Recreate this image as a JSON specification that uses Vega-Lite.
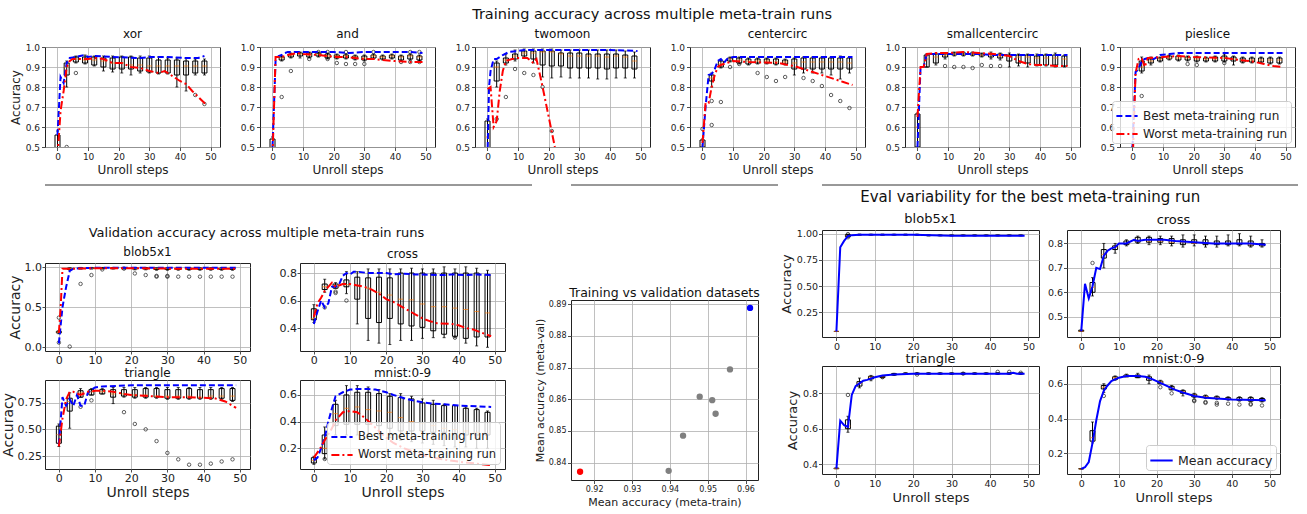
{
"$schema":"https://vega.github.io/schema/vega-lite/v6.json",
"padding":{"left":0,"top":7,"right":5,"bottom":3},
"background":"white",
"config":{
 "font":"DejaVu Sans",
 "view":{"stroke":"#222","strokeWidth":1},
 "axis":{"grid":true,"gridColor":"#b0b0b0","gridWidth":0.8,"domain":false,"tickColor":"#222","tickSize":3.5,"tickWidth":0.8,"labelColor":"#222","titleColor":"#222","titleFontWeight":"normal","labelFont":"DejaVu Sans","titleFont":"DejaVu Sans","labelPadding":2,"titlePadding":3,"labelFlush":false,"labelOverlap":false,"labelFontSize":9,"titleFontSize":12,"tickCount":50},
 "style":{"tr":{"labelFontSize":9,"titleFontSize":12},"va":{"labelFontSize":11,"titleFontSize":14,"labelPadding":0.5,"tickSize":3,"titlePadding":2},"ev":{"labelFontSize":9.5,"titleFontSize":13,"labelPadding":1},"sc":{"labelFontSize":8,"titleFontSize":11,"labelPadding":1.5}},
 "title":{"font":"DejaVu Sans","fontWeight":"normal","color":"#111","fontSize":12,"offset":2},
 "legend":{"labelFont":"DejaVu Sans","labelColor":"#222"}
},
"datasets":{
"sep":[{}],
"scatter":[{"kind":"worst","train_acc":0.9163,"val_acc":0.8371},{"kind":"other","train_acc":0.9397,"val_acc":0.8374},{"kind":"other","train_acc":0.9435,"val_acc":0.8485},{"kind":"other","train_acc":0.9479,"val_acc":0.8608},{"kind":"other","train_acc":0.9512,"val_acc":0.8597},{"kind":"other","train_acc":0.9521,"val_acc":0.8554},{"kind":"other","train_acc":0.9559,"val_acc":0.8694},{"kind":"best","train_acc":0.9612,"val_acc":0.8888}],
"box":[
{"panel":"t_xor","step":0,"lo":0.3,"q1":0.4,"med":0.48,"q3":0.56,"hi":0.58},
{"panel":"t_xor","step":3,"lo":0.8,"q1":0.86,"med":0.9,"q3":0.92,"hi":0.93},
{"panel":"t_xor","step":6,"lo":0.92,"q1":0.925,"med":0.94,"q3":0.95,"hi":0.955},
{"panel":"t_xor","step":9,"lo":0.915,"q1":0.92,"med":0.935,"q3":0.95,"hi":0.96},
{"panel":"t_xor","step":12,"lo":0.905,"q1":0.91,"med":0.935,"q3":0.95,"hi":0.955},
{"panel":"t_xor","step":15,"lo":0.88,"q1":0.9,"med":0.93,"q3":0.945,"hi":0.955},
{"panel":"t_xor","step":18,"lo":0.875,"q1":0.89,"med":0.92,"q3":0.945,"hi":0.955},
{"panel":"t_xor","step":21,"lo":0.87,"q1":0.89,"med":0.92,"q3":0.95,"hi":0.955},
{"panel":"t_xor","step":24,"lo":0.86,"q1":0.89,"med":0.91,"q3":0.95,"hi":0.955},
{"panel":"t_xor","step":27,"lo":0.87,"q1":0.88,"med":0.91,"q3":0.945,"hi":0.955},
{"panel":"t_xor","step":30,"lo":0.87,"q1":0.875,"med":0.905,"q3":0.945,"hi":0.955},
{"panel":"t_xor","step":33,"lo":0.865,"q1":0.87,"med":0.905,"q3":0.935,"hi":0.95},
{"panel":"t_xor","step":36,"lo":0.865,"q1":0.87,"med":0.905,"q3":0.935,"hi":0.945},
{"panel":"t_xor","step":39,"lo":0.8,"q1":0.86,"med":0.905,"q3":0.935,"hi":0.945},
{"panel":"t_xor","step":42,"lo":0.78,"q1":0.86,"med":0.905,"q3":0.93,"hi":0.945},
{"panel":"t_xor","step":45,"lo":0.86,"q1":0.87,"med":0.905,"q3":0.93,"hi":0.94},
{"panel":"t_xor","step":48,"lo":0.86,"q1":0.87,"med":0.905,"q3":0.93,"hi":0.94},
{"panel":"t_and","step":0,"lo":0.4,"q1":0.45,"med":0.5,"q3":0.54,"hi":0.55},
{"panel":"t_and","step":3,"lo":0.93,"q1":0.935,"med":0.945,"q3":0.95,"hi":0.955},
{"panel":"t_and","step":6,"lo":0.945,"q1":0.95,"med":0.96,"q3":0.965,"hi":0.97},
{"panel":"t_and","step":9,"lo":0.945,"q1":0.955,"med":0.965,"q3":0.97,"hi":0.975},
{"panel":"t_and","step":12,"lo":0.945,"q1":0.95,"med":0.96,"q3":0.97,"hi":0.975},
{"panel":"t_and","step":15,"lo":0.95,"q1":0.955,"med":0.965,"q3":0.97,"hi":0.975},
{"panel":"t_and","step":18,"lo":0.94,"q1":0.945,"med":0.955,"q3":0.965,"hi":0.97},
{"panel":"t_and","step":21,"lo":0.94,"q1":0.945,"med":0.955,"q3":0.96,"hi":0.965},
{"panel":"t_and","step":24,"lo":0.94,"q1":0.945,"med":0.955,"q3":0.96,"hi":0.965},
{"panel":"t_and","step":27,"lo":0.935,"q1":0.94,"med":0.95,"q3":0.955,"hi":0.96},
{"panel":"t_and","step":30,"lo":0.93,"q1":0.935,"med":0.945,"q3":0.955,"hi":0.96},
{"panel":"t_and","step":33,"lo":0.94,"q1":0.945,"med":0.955,"q3":0.96,"hi":0.965},
{"panel":"t_and","step":36,"lo":0.935,"q1":0.94,"med":0.95,"q3":0.955,"hi":0.96},
{"panel":"t_and","step":39,"lo":0.94,"q1":0.945,"med":0.955,"q3":0.96,"hi":0.965},
{"panel":"t_and","step":42,"lo":0.93,"q1":0.935,"med":0.95,"q3":0.955,"hi":0.96},
{"panel":"t_and","step":45,"lo":0.935,"q1":0.94,"med":0.955,"q3":0.96,"hi":0.965},
{"panel":"t_and","step":48,"lo":0.93,"q1":0.935,"med":0.95,"q3":0.955,"hi":0.96},
{"panel":"t_twomoon","step":0,"lo":0.4,"q1":0.45,"med":0.55,"q3":0.63,"hi":0.64},
{"panel":"t_twomoon","step":3,"lo":0.8,"q1":0.83,"med":0.9,"q3":0.92,"hi":0.93},
{"panel":"t_twomoon","step":6,"lo":0.91,"q1":0.92,"med":0.935,"q3":0.945,"hi":0.965},
{"panel":"t_twomoon","step":9,"lo":0.93,"q1":0.94,"med":0.955,"q3":0.965,"hi":0.985},
{"panel":"t_twomoon","step":12,"lo":0.945,"q1":0.955,"med":0.97,"q3":0.98,"hi":0.99},
{"panel":"t_twomoon","step":15,"lo":0.92,"q1":0.94,"med":0.97,"q3":0.98,"hi":0.99},
{"panel":"t_twomoon","step":18,"lo":0.85,"q1":0.91,"med":0.975,"q3":0.98,"hi":0.99},
{"panel":"t_twomoon","step":21,"lo":0.845,"q1":0.905,"med":0.975,"q3":0.98,"hi":0.99},
{"panel":"t_twomoon","step":24,"lo":0.85,"q1":0.905,"med":0.965,"q3":0.97,"hi":0.985},
{"panel":"t_twomoon","step":27,"lo":0.845,"q1":0.895,"med":0.955,"q3":0.97,"hi":0.985},
{"panel":"t_twomoon","step":30,"lo":0.845,"q1":0.895,"med":0.955,"q3":0.97,"hi":0.985},
{"panel":"t_twomoon","step":33,"lo":0.845,"q1":0.895,"med":0.955,"q3":0.965,"hi":0.985},
{"panel":"t_twomoon","step":36,"lo":0.84,"q1":0.895,"med":0.955,"q3":0.965,"hi":0.985},
{"panel":"t_twomoon","step":39,"lo":0.84,"q1":0.89,"med":0.95,"q3":0.965,"hi":0.985},
{"panel":"t_twomoon","step":42,"lo":0.845,"q1":0.895,"med":0.955,"q3":0.965,"hi":0.985},
{"panel":"t_twomoon","step":45,"lo":0.845,"q1":0.895,"med":0.95,"q3":0.96,"hi":0.98},
{"panel":"t_twomoon","step":48,"lo":0.845,"q1":0.89,"med":0.93,"q3":0.955,"hi":0.975},
{"panel":"t_centercirc","step":0,"lo":0.49,"q1":0.5,"med":0.51,"q3":0.535,"hi":0.54},
{"panel":"t_centercirc","step":3,"lo":0.8,"q1":0.83,"med":0.845,"q3":0.86,"hi":0.87},
{"panel":"t_centercirc","step":6,"lo":0.895,"q1":0.9,"med":0.915,"q3":0.93,"hi":0.935},
{"panel":"t_centercirc","step":9,"lo":0.925,"q1":0.93,"med":0.94,"q3":0.945,"hi":0.95},
{"panel":"t_centercirc","step":12,"lo":0.915,"q1":0.92,"med":0.935,"q3":0.945,"hi":0.95},
{"panel":"t_centercirc","step":15,"lo":0.91,"q1":0.915,"med":0.93,"q3":0.94,"hi":0.945},
{"panel":"t_centercirc","step":18,"lo":0.915,"q1":0.92,"med":0.93,"q3":0.94,"hi":0.945},
{"panel":"t_centercirc","step":21,"lo":0.915,"q1":0.92,"med":0.93,"q3":0.94,"hi":0.945},
{"panel":"t_centercirc","step":24,"lo":0.91,"q1":0.915,"med":0.925,"q3":0.94,"hi":0.945},
{"panel":"t_centercirc","step":27,"lo":0.91,"q1":0.915,"med":0.925,"q3":0.935,"hi":0.94},
{"panel":"t_centercirc","step":30,"lo":0.86,"q1":0.89,"med":0.92,"q3":0.94,"hi":0.945},
{"panel":"t_centercirc","step":33,"lo":0.87,"q1":0.89,"med":0.925,"q3":0.945,"hi":0.95},
{"panel":"t_centercirc","step":36,"lo":0.87,"q1":0.89,"med":0.925,"q3":0.945,"hi":0.95},
{"panel":"t_centercirc","step":39,"lo":0.87,"q1":0.89,"med":0.925,"q3":0.945,"hi":0.95},
{"panel":"t_centercirc","step":42,"lo":0.86,"q1":0.89,"med":0.925,"q3":0.945,"hi":0.95},
{"panel":"t_centercirc","step":45,"lo":0.84,"q1":0.89,"med":0.925,"q3":0.945,"hi":0.955},
{"panel":"t_centercirc","step":48,"lo":0.87,"q1":0.89,"med":0.92,"q3":0.945,"hi":0.95},
{"panel":"t_small","step":0,"lo":0.45,"q1":0.5,"med":0.6,"q3":0.665,"hi":0.67},
{"panel":"t_small","step":3,"lo":0.9,"q1":0.9,"med":0.94,"q3":0.96,"hi":0.965},
{"panel":"t_small","step":6,"lo":0.91,"q1":0.92,"med":0.95,"q3":0.965,"hi":0.97},
{"panel":"t_small","step":9,"lo":0.94,"q1":0.95,"med":0.96,"q3":0.965,"hi":0.97},
{"panel":"t_small","step":12,"lo":0.955,"q1":0.96,"med":0.965,"q3":0.97,"hi":0.975},
{"panel":"t_small","step":15,"lo":0.955,"q1":0.96,"med":0.965,"q3":0.97,"hi":0.975},
{"panel":"t_small","step":18,"lo":0.955,"q1":0.96,"med":0.965,"q3":0.97,"hi":0.975},
{"panel":"t_small","step":21,"lo":0.95,"q1":0.955,"med":0.96,"q3":0.965,"hi":0.97},
{"panel":"t_small","step":24,"lo":0.94,"q1":0.95,"med":0.96,"q3":0.965,"hi":0.975},
{"panel":"t_small","step":27,"lo":0.935,"q1":0.945,"med":0.955,"q3":0.965,"hi":0.97},
{"panel":"t_small","step":30,"lo":0.9,"q1":0.93,"med":0.955,"q3":0.96,"hi":0.97},
{"panel":"t_small","step":33,"lo":0.905,"q1":0.92,"med":0.95,"q3":0.96,"hi":0.965},
{"panel":"t_small","step":36,"lo":0.9,"q1":0.92,"med":0.95,"q3":0.96,"hi":0.965},
{"panel":"t_small","step":39,"lo":0.905,"q1":0.91,"med":0.945,"q3":0.955,"hi":0.965},
{"panel":"t_small","step":42,"lo":0.905,"q1":0.91,"med":0.945,"q3":0.96,"hi":0.965},
{"panel":"t_small","step":45,"lo":0.9,"q1":0.91,"med":0.945,"q3":0.96,"hi":0.97},
{"panel":"t_small","step":48,"lo":0.9,"q1":0.905,"med":0.94,"q3":0.955,"hi":0.96},
{"panel":"t_pie","step":0,"lo":0.3,"q1":0.35,"med":0.4,"q3":0.45,"hi":0.5},
{"panel":"t_pie","step":3,"lo":0.87,"q1":0.88,"med":0.9,"q3":0.93,"hi":0.95},
{"panel":"t_pie","step":6,"lo":0.91,"q1":0.92,"med":0.93,"q3":0.94,"hi":0.95},
{"panel":"t_pie","step":9,"lo":0.925,"q1":0.93,"med":0.94,"q3":0.945,"hi":0.95},
{"panel":"t_pie","step":12,"lo":0.935,"q1":0.94,"med":0.945,"q3":0.955,"hi":0.96},
{"panel":"t_pie","step":15,"lo":0.93,"q1":0.935,"med":0.945,"q3":0.955,"hi":0.96},
{"panel":"t_pie","step":18,"lo":0.93,"q1":0.935,"med":0.945,"q3":0.95,"hi":0.955},
{"panel":"t_pie","step":21,"lo":0.925,"q1":0.93,"med":0.94,"q3":0.95,"hi":0.955},
{"panel":"t_pie","step":24,"lo":0.925,"q1":0.93,"med":0.94,"q3":0.945,"hi":0.95},
{"panel":"t_pie","step":27,"lo":0.925,"q1":0.93,"med":0.94,"q3":0.95,"hi":0.955},
{"panel":"t_pie","step":30,"lo":0.925,"q1":0.93,"med":0.945,"q3":0.955,"hi":0.965},
{"panel":"t_pie","step":33,"lo":0.91,"q1":0.93,"med":0.94,"q3":0.95,"hi":0.955},
{"panel":"t_pie","step":36,"lo":0.92,"q1":0.925,"med":0.935,"q3":0.945,"hi":0.95},
{"panel":"t_pie","step":39,"lo":0.92,"q1":0.925,"med":0.935,"q3":0.945,"hi":0.95},
{"panel":"t_pie","step":42,"lo":0.92,"q1":0.925,"med":0.935,"q3":0.945,"hi":0.95},
{"panel":"t_pie","step":45,"lo":0.915,"q1":0.92,"med":0.935,"q3":0.945,"hi":0.95},
{"panel":"t_pie","step":48,"lo":0.915,"q1":0.92,"med":0.935,"q3":0.945,"hi":0.95},
{"panel":"v_blob","step":0,"lo":0.17,"q1":0.18,"med":0.19,"q3":0.2,"hi":0.21},
{"panel":"v_blob","step":3,"lo":0.96,"q1":0.97,"med":0.98,"q3":0.985,"hi":0.99},
{"panel":"v_blob","step":6,"lo":0.975,"q1":0.98,"med":0.985,"q3":0.99,"hi":0.995},
{"panel":"v_blob","step":9,"lo":0.975,"q1":0.98,"med":0.985,"q3":0.99,"hi":0.995},
{"panel":"v_blob","step":12,"lo":0.975,"q1":0.98,"med":0.985,"q3":0.99,"hi":0.995},
{"panel":"v_blob","step":15,"lo":0.975,"q1":0.98,"med":0.985,"q3":0.99,"hi":0.995},
{"panel":"v_blob","step":18,"lo":0.975,"q1":0.98,"med":0.985,"q3":0.99,"hi":0.995},
{"panel":"v_blob","step":21,"lo":0.965,"q1":0.975,"med":0.98,"q3":0.99,"hi":0.995},
{"panel":"v_blob","step":24,"lo":0.965,"q1":0.975,"med":0.98,"q3":0.99,"hi":0.995},
{"panel":"v_blob","step":27,"lo":0.96,"q1":0.97,"med":0.98,"q3":0.985,"hi":0.99},
{"panel":"v_blob","step":30,"lo":0.96,"q1":0.97,"med":0.98,"q3":0.985,"hi":0.99},
{"panel":"v_blob","step":33,"lo":0.96,"q1":0.97,"med":0.98,"q3":0.985,"hi":0.99},
{"panel":"v_blob","step":36,"lo":0.96,"q1":0.97,"med":0.98,"q3":0.985,"hi":0.99},
{"panel":"v_blob","step":39,"lo":0.96,"q1":0.97,"med":0.98,"q3":0.985,"hi":0.99},
{"panel":"v_blob","step":42,"lo":0.96,"q1":0.97,"med":0.98,"q3":0.985,"hi":0.99},
{"panel":"v_blob","step":45,"lo":0.96,"q1":0.97,"med":0.98,"q3":0.985,"hi":0.99},
{"panel":"v_blob","step":48,"lo":0.96,"q1":0.97,"med":0.98,"q3":0.985,"hi":0.99},
{"panel":"v_cross","step":0,"lo":0.44,"q1":0.46,"med":0.47,"q3":0.54,"hi":0.57},
{"panel":"v_cross","step":3,"lo":0.66,"q1":0.68,"med":0.7,"q3":0.72,"hi":0.755},
{"panel":"v_cross","step":6,"lo":0.69,"q1":0.69,"med":0.71,"q3":0.72,"hi":0.73},
{"panel":"v_cross","step":9,"lo":0.65,"q1":0.7,"med":0.715,"q3":0.75,"hi":0.81},
{"panel":"v_cross","step":12,"lo":0.43,"q1":0.61,"med":0.71,"q3":0.77,"hi":0.81},
{"panel":"v_cross","step":15,"lo":0.31,"q1":0.47,"med":0.69,"q3":0.765,"hi":0.83},
{"panel":"v_cross","step":18,"lo":0.29,"q1":0.44,"med":0.66,"q3":0.77,"hi":0.83},
{"panel":"v_cross","step":21,"lo":0.28,"q1":0.47,"med":0.64,"q3":0.765,"hi":0.83},
{"panel":"v_cross","step":24,"lo":0.31,"q1":0.43,"med":0.61,"q3":0.8,"hi":0.83},
{"panel":"v_cross","step":27,"lo":0.31,"q1":0.415,"med":0.605,"q3":0.8,"hi":0.835},
{"panel":"v_cross","step":30,"lo":0.325,"q1":0.405,"med":0.575,"q3":0.8,"hi":0.83},
{"panel":"v_cross","step":33,"lo":0.33,"q1":0.38,"med":0.555,"q3":0.8,"hi":0.83},
{"panel":"v_cross","step":36,"lo":0.33,"q1":0.355,"med":0.555,"q3":0.8,"hi":0.845},
{"panel":"v_cross","step":39,"lo":0.33,"q1":0.34,"med":0.545,"q3":0.8,"hi":0.83},
{"panel":"v_cross","step":42,"lo":0.29,"q1":0.325,"med":0.535,"q3":0.8,"hi":0.845},
{"panel":"v_cross","step":45,"lo":0.27,"q1":0.335,"med":0.52,"q3":0.8,"hi":0.835},
{"panel":"v_cross","step":48,"lo":0.26,"q1":0.335,"med":0.51,"q3":0.79,"hi":0.82},
{"panel":"v_tri","step":0,"lo":0.34,"q1":0.37,"med":0.45,"q3":0.53,"hi":0.55},
{"panel":"v_tri","step":3,"lo":0.51,"q1":0.67,"med":0.76,"q3":0.79,"hi":0.84},
{"panel":"v_tri","step":6,"lo":0.8,"q1":0.8,"med":0.84,"q3":0.86,"hi":0.88},
{"panel":"v_tri","step":9,"lo":0.82,"q1":0.82,"med":0.85,"q3":0.87,"hi":0.88},
{"panel":"v_tri","step":12,"lo":0.83,"q1":0.83,"med":0.85,"q3":0.87,"hi":0.88},
{"panel":"v_tri","step":15,"lo":0.74,"q1":0.8,"med":0.83,"q3":0.87,"hi":0.89},
{"panel":"v_tri","step":18,"lo":0.8,"q1":0.81,"med":0.83,"q3":0.87,"hi":0.89},
{"panel":"v_tri","step":21,"lo":0.79,"q1":0.8,"med":0.82,"q3":0.87,"hi":0.89},
{"panel":"v_tri","step":24,"lo":0.79,"q1":0.8,"med":0.82,"q3":0.88,"hi":0.89},
{"panel":"v_tri","step":27,"lo":0.79,"q1":0.8,"med":0.81,"q3":0.88,"hi":0.89},
{"panel":"v_tri","step":30,"lo":0.78,"q1":0.79,"med":0.81,"q3":0.87,"hi":0.89},
{"panel":"v_tri","step":33,"lo":0.78,"q1":0.79,"med":0.81,"q3":0.87,"hi":0.89},
{"panel":"v_tri","step":36,"lo":0.78,"q1":0.79,"med":0.81,"q3":0.88,"hi":0.89},
{"panel":"v_tri","step":39,"lo":0.78,"q1":0.79,"med":0.8,"q3":0.87,"hi":0.89},
{"panel":"v_tri","step":42,"lo":0.78,"q1":0.79,"med":0.81,"q3":0.87,"hi":0.89},
{"panel":"v_tri","step":45,"lo":0.78,"q1":0.79,"med":0.81,"q3":0.88,"hi":0.89},
{"panel":"v_tri","step":48,"lo":0.76,"q1":0.77,"med":0.81,"q3":0.88,"hi":0.89},
{"panel":"v_mnist","step":0,"lo":0.08,"q1":0.09,"med":0.11,"q3":0.13,"hi":0.14},
{"panel":"v_mnist","step":3,"lo":0.12,"q1":0.16,"med":0.2,"q3":0.3,"hi":0.36},
{"panel":"v_mnist","step":6,"lo":0.3,"q1":0.37,"med":0.46,"q3":0.53,"hi":0.56},
{"panel":"v_mnist","step":9,"lo":0.3,"q1":0.38,"med":0.5,"q3":0.6,"hi":0.67},
{"panel":"v_mnist","step":12,"lo":0.3,"q1":0.38,"med":0.51,"q3":0.62,"hi":0.67},
{"panel":"v_mnist","step":15,"lo":0.3,"q1":0.38,"med":0.49,"q3":0.62,"hi":0.66},
{"panel":"v_mnist","step":18,"lo":0.3,"q1":0.37,"med":0.48,"q3":0.61,"hi":0.64},
{"panel":"v_mnist","step":21,"lo":0.28,"q1":0.35,"med":0.47,"q3":0.59,"hi":0.61},
{"panel":"v_mnist","step":24,"lo":0.26,"q1":0.33,"med":0.43,"q3":0.58,"hi":0.61},
{"panel":"v_mnist","step":27,"lo":0.25,"q1":0.33,"med":0.4,"q3":0.57,"hi":0.59},
{"panel":"v_mnist","step":30,"lo":0.24,"q1":0.33,"med":0.39,"q3":0.54,"hi":0.57},
{"panel":"v_mnist","step":33,"lo":0.23,"q1":0.32,"med":0.37,"q3":0.53,"hi":0.56},
{"panel":"v_mnist","step":36,"lo":0.22,"q1":0.32,"med":0.35,"q3":0.52,"hi":0.53},
{"panel":"v_mnist","step":39,"lo":0.21,"q1":0.31,"med":0.34,"q3":0.52,"hi":0.52},
{"panel":"v_mnist","step":42,"lo":0.21,"q1":0.3,"med":0.33,"q3":0.5,"hi":0.51},
{"panel":"v_mnist","step":45,"lo":0.2,"q1":0.3,"med":0.32,"q3":0.49,"hi":0.5},
{"panel":"v_mnist","step":48,"lo":0.2,"q1":0.3,"med":0.31,"q3":0.47,"hi":0.48},
{"panel":"e_blob","step":0,"lo":0.07,"q1":0.07,"med":0.07,"q3":0.07,"hi":0.07},
{"panel":"e_blob","step":3,"lo":0.965,"q1":0.97,"med":0.98,"q3":0.99,"hi":0.995},
{"panel":"e_blob","step":6,"lo":0.985,"q1":0.987,"med":0.99,"q3":0.992,"hi":0.995},
{"panel":"e_blob","step":9,"lo":0.985,"q1":0.987,"med":0.99,"q3":0.992,"hi":0.995},
{"panel":"e_blob","step":12,"lo":0.985,"q1":0.987,"med":0.99,"q3":0.992,"hi":0.995},
{"panel":"e_blob","step":15,"lo":0.985,"q1":0.987,"med":0.99,"q3":0.992,"hi":0.995},
{"panel":"e_blob","step":18,"lo":0.985,"q1":0.987,"med":0.99,"q3":0.992,"hi":0.995},
{"panel":"e_blob","step":21,"lo":0.985,"q1":0.987,"med":0.99,"q3":0.992,"hi":0.995},
{"panel":"e_blob","step":24,"lo":0.978,"q1":0.98,"med":0.982,"q3":0.985,"hi":0.987},
{"panel":"e_blob","step":27,"lo":0.978,"q1":0.98,"med":0.982,"q3":0.985,"hi":0.987},
{"panel":"e_blob","step":30,"lo":0.978,"q1":0.98,"med":0.982,"q3":0.985,"hi":0.987},
{"panel":"e_blob","step":33,"lo":0.978,"q1":0.98,"med":0.982,"q3":0.985,"hi":0.987},
{"panel":"e_blob","step":36,"lo":0.978,"q1":0.98,"med":0.982,"q3":0.985,"hi":0.987},
{"panel":"e_blob","step":39,"lo":0.978,"q1":0.98,"med":0.982,"q3":0.985,"hi":0.987},
{"panel":"e_blob","step":42,"lo":0.978,"q1":0.98,"med":0.982,"q3":0.985,"hi":0.987},
{"panel":"e_blob","step":45,"lo":0.978,"q1":0.98,"med":0.982,"q3":0.985,"hi":0.987},
{"panel":"e_blob","step":48,"lo":0.978,"q1":0.98,"med":0.982,"q3":0.985,"hi":0.987},
{"panel":"e_cross","step":0,"lo":0.44,"q1":0.44,"med":0.44,"q3":0.445,"hi":0.445},
{"panel":"e_cross","step":3,"lo":0.585,"q1":0.6,"med":0.62,"q3":0.64,"hi":0.66},
{"panel":"e_cross","step":6,"lo":0.7,"q1":0.74,"med":0.755,"q3":0.775,"hi":0.8},
{"panel":"e_cross","step":9,"lo":0.76,"q1":0.775,"med":0.785,"q3":0.79,"hi":0.8},
{"panel":"e_cross","step":12,"lo":0.79,"q1":0.795,"med":0.8,"q3":0.81,"hi":0.815},
{"panel":"e_cross","step":15,"lo":0.8,"q1":0.805,"med":0.81,"q3":0.825,"hi":0.83},
{"panel":"e_cross","step":18,"lo":0.795,"q1":0.805,"med":0.81,"q3":0.825,"hi":0.83},
{"panel":"e_cross","step":21,"lo":0.795,"q1":0.805,"med":0.81,"q3":0.82,"hi":0.83},
{"panel":"e_cross","step":24,"lo":0.79,"q1":0.8,"med":0.805,"q3":0.82,"hi":0.83},
{"panel":"e_cross","step":27,"lo":0.785,"q1":0.795,"med":0.805,"q3":0.815,"hi":0.835},
{"panel":"e_cross","step":30,"lo":0.79,"q1":0.8,"med":0.8,"q3":0.815,"hi":0.835},
{"panel":"e_cross","step":33,"lo":0.785,"q1":0.795,"med":0.8,"q3":0.815,"hi":0.83},
{"panel":"e_cross","step":36,"lo":0.785,"q1":0.795,"med":0.8,"q3":0.81,"hi":0.83},
{"panel":"e_cross","step":39,"lo":0.79,"q1":0.795,"med":0.8,"q3":0.81,"hi":0.835},
{"panel":"e_cross","step":42,"lo":0.79,"q1":0.795,"med":0.8,"q3":0.815,"hi":0.84},
{"panel":"e_cross","step":45,"lo":0.785,"q1":0.79,"med":0.795,"q3":0.81,"hi":0.83},
{"panel":"e_cross","step":48,"lo":0.785,"q1":0.79,"med":0.795,"q3":0.8,"hi":0.815},
{"panel":"e_tri","step":0,"lo":0.375,"q1":0.375,"med":0.375,"q3":0.378,"hi":0.378},
{"panel":"e_tri","step":3,"lo":0.58,"q1":0.6,"med":0.615,"q3":0.65,"hi":0.67},
{"panel":"e_tri","step":6,"lo":0.83,"q1":0.84,"med":0.855,"q3":0.865,"hi":0.885},
{"panel":"e_tri","step":9,"lo":0.87,"q1":0.88,"med":0.89,"q3":0.895,"hi":0.9},
{"panel":"e_tri","step":12,"lo":0.885,"q1":0.888,"med":0.892,"q3":0.895,"hi":0.898},
{"panel":"e_tri","step":15,"lo":0.9,"q1":0.902,"med":0.905,"q3":0.91,"hi":0.912},
{"panel":"e_tri","step":18,"lo":0.905,"q1":0.908,"med":0.91,"q3":0.913,"hi":0.915},
{"panel":"e_tri","step":21,"lo":0.905,"q1":0.908,"med":0.91,"q3":0.913,"hi":0.915},
{"panel":"e_tri","step":24,"lo":0.905,"q1":0.908,"med":0.91,"q3":0.913,"hi":0.915},
{"panel":"e_tri","step":27,"lo":0.905,"q1":0.908,"med":0.91,"q3":0.913,"hi":0.915},
{"panel":"e_tri","step":30,"lo":0.905,"q1":0.908,"med":0.91,"q3":0.913,"hi":0.915},
{"panel":"e_tri","step":33,"lo":0.905,"q1":0.908,"med":0.91,"q3":0.913,"hi":0.915},
{"panel":"e_tri","step":36,"lo":0.905,"q1":0.908,"med":0.91,"q3":0.913,"hi":0.915},
{"panel":"e_tri","step":39,"lo":0.905,"q1":0.908,"med":0.91,"q3":0.913,"hi":0.915},
{"panel":"e_tri","step":42,"lo":0.905,"q1":0.908,"med":0.91,"q3":0.913,"hi":0.915},
{"panel":"e_tri","step":45,"lo":0.905,"q1":0.908,"med":0.91,"q3":0.913,"hi":0.915},
{"panel":"e_tri","step":48,"lo":0.905,"q1":0.908,"med":0.91,"q3":0.913,"hi":0.915},
{"panel":"e_mnist","step":0,"lo":0.11,"q1":0.11,"med":0.11,"q3":0.112,"hi":0.112},
{"panel":"e_mnist","step":3,"lo":0.26,"q1":0.27,"med":0.29,"q3":0.33,"hi":0.38},
{"panel":"e_mnist","step":6,"lo":0.55,"q1":0.57,"med":0.58,"q3":0.59,"hi":0.6},
{"panel":"e_mnist","step":9,"lo":0.62,"q1":0.625,"med":0.635,"q3":0.64,"hi":0.645},
{"panel":"e_mnist","step":12,"lo":0.64,"q1":0.64,"med":0.645,"q3":0.65,"hi":0.655},
{"panel":"e_mnist","step":15,"lo":0.635,"q1":0.635,"med":0.645,"q3":0.65,"hi":0.66},
{"panel":"e_mnist","step":18,"lo":0.6,"q1":0.62,"med":0.63,"q3":0.64,"hi":0.65},
{"panel":"e_mnist","step":21,"lo":0.6,"q1":0.6,"med":0.61,"q3":0.615,"hi":0.62},
{"panel":"e_mnist","step":24,"lo":0.565,"q1":0.565,"med":0.575,"q3":0.585,"hi":0.59},
{"panel":"e_mnist","step":27,"lo":0.53,"q1":0.545,"med":0.555,"q3":0.56,"hi":0.565},
{"panel":"e_mnist","step":30,"lo":0.52,"q1":0.525,"med":0.535,"q3":0.54,"hi":0.545},
{"panel":"e_mnist","step":33,"lo":0.515,"q1":0.52,"med":0.525,"q3":0.53,"hi":0.535},
{"panel":"e_mnist","step":36,"lo":0.51,"q1":0.515,"med":0.52,"q3":0.525,"hi":0.53},
{"panel":"e_mnist","step":39,"lo":0.505,"q1":0.51,"med":0.515,"q3":0.52,"hi":0.525},
{"panel":"e_mnist","step":42,"lo":0.5,"q1":0.505,"med":0.51,"q3":0.52,"hi":0.525},
{"panel":"e_mnist","step":45,"lo":0.5,"q1":0.5,"med":0.51,"q3":0.52,"hi":0.525},
{"panel":"e_mnist","step":48,"lo":0.495,"q1":0.5,"med":0.505,"q3":0.515,"hi":0.52}
],
"out":[
{"panel":"t_xor","step":3,"acc":0.5},{"panel":"t_xor","step":6,"acc":0.87},{"panel":"t_xor","step":45,"acc":0.76},{"panel":"t_xor","step":48,"acc":0.715},
{"panel":"t_and","step":3,"acc":0.75},{"panel":"t_and","step":6,"acc":0.88},{"panel":"t_and","step":12,"acc":0.94},{"panel":"t_and","step":15,"acc":0.975},{"panel":"t_and","step":18,"acc":0.975},{"panel":"t_and","step":18,"acc":0.94},{"panel":"t_and","step":21,"acc":0.92},{"panel":"t_and","step":24,"acc":0.975},{"panel":"t_and","step":24,"acc":0.915},{"panel":"t_and","step":27,"acc":0.915},{"panel":"t_and","step":30,"acc":0.915},{"panel":"t_and","step":33,"acc":0.975},{"panel":"t_and","step":42,"acc":0.925},{"panel":"t_and","step":45,"acc":0.975},{"panel":"t_and","step":45,"acc":0.925},{"panel":"t_and","step":48,"acc":0.975},{"panel":"t_and","step":48,"acc":0.925},
{"panel":"t_twomoon","step":3,"acc":0.64},{"panel":"t_twomoon","step":6,"acc":0.75},{"panel":"t_twomoon","step":9,"acc":0.89},{"panel":"t_twomoon","step":12,"acc":0.87},{"panel":"t_twomoon","step":15,"acc":0.86},{"panel":"t_twomoon","step":18,"acc":0.8},{"panel":"t_twomoon","step":21,"acc":0.58},
{"panel":"t_centercirc","step":0,"acc":0.59},{"panel":"t_centercirc","step":3,"acc":0.73},{"panel":"t_centercirc","step":3,"acc":0.61},{"panel":"t_centercirc","step":6,"acc":0.725},{"panel":"t_centercirc","step":9,"acc":0.9},{"panel":"t_centercirc","step":12,"acc":0.915},{"panel":"t_centercirc","step":18,"acc":0.87},{"panel":"t_centercirc","step":21,"acc":0.85},{"panel":"t_centercirc","step":24,"acc":0.83},{"panel":"t_centercirc","step":27,"acc":0.85},{"panel":"t_centercirc","step":33,"acc":0.845},{"panel":"t_centercirc","step":36,"acc":0.83},{"panel":"t_centercirc","step":39,"acc":0.805},{"panel":"t_centercirc","step":42,"acc":0.76},{"panel":"t_centercirc","step":45,"acc":0.73},{"panel":"t_centercirc","step":48,"acc":0.695},
{"panel":"t_small","step":9,"acc":0.905},{"panel":"t_small","step":12,"acc":0.9},{"panel":"t_small","step":15,"acc":0.9},{"panel":"t_small","step":18,"acc":0.895},{"panel":"t_small","step":21,"acc":0.91},{"panel":"t_small","step":24,"acc":0.905},{"panel":"t_small","step":27,"acc":0.905},
{"panel":"t_pie","step":3,"acc":0.755},{"panel":"t_pie","step":18,"acc":0.915},{"panel":"t_pie","step":21,"acc":0.91},{"panel":"t_pie","step":30,"acc":0.92},
{"panel":"v_blob","step":0,"acc":0.37},{"panel":"v_blob","step":0,"acc":0.06},{"panel":"v_blob","step":3,"acc":0.01},{"panel":"v_blob","step":6,"acc":0.79},{"panel":"v_blob","step":9,"acc":0.9},{"panel":"v_blob","step":12,"acc":0.97},{"panel":"v_blob","step":18,"acc":0.98},{"panel":"v_blob","step":21,"acc":0.92},{"panel":"v_blob","step":24,"acc":0.9},{"panel":"v_blob","step":27,"acc":0.88},{"panel":"v_blob","step":27,"acc":0.89},{"panel":"v_blob","step":30,"acc":0.88},{"panel":"v_blob","step":30,"acc":0.89},{"panel":"v_blob","step":33,"acc":0.88},{"panel":"v_blob","step":36,"acc":0.88},{"panel":"v_blob","step":39,"acc":0.88},{"panel":"v_blob","step":42,"acc":0.88},{"panel":"v_blob","step":45,"acc":0.88},{"panel":"v_blob","step":48,"acc":0.88},
{"panel":"v_cross","step":3,"acc":0.55},{"panel":"v_cross","step":6,"acc":0.655},{"panel":"v_cross","step":6,"acc":0.665},{"panel":"v_cross","step":9,"acc":0.6},{"panel":"v_cross","step":39,"acc":0.33},
{"panel":"v_tri","step":6,"acc":0.71},{"panel":"v_tri","step":9,"acc":0.77},{"panel":"v_tri","step":18,"acc":0.66},{"panel":"v_tri","step":21,"acc":0.55},{"panel":"v_tri","step":24,"acc":0.5},{"panel":"v_tri","step":27,"acc":0.39},{"panel":"v_tri","step":30,"acc":0.28},{"panel":"v_tri","step":33,"acc":0.22},{"panel":"v_tri","step":36,"acc":0.17},{"panel":"v_tri","step":39,"acc":0.17},{"panel":"v_tri","step":42,"acc":0.18},{"panel":"v_tri","step":45,"acc":0.2},{"panel":"v_tri","step":48,"acc":0.22},
{"panel":"v_mnist","step":3,"acc":0.12},
{"panel":"e_blob","step":3,"acc":0.995},{"panel":"e_blob","step":3,"acc":0.965},
{"panel":"e_cross","step":3,"acc":0.72},
{"panel":"e_tri","step":3,"acc":0.79},{"panel":"e_tri","step":12,"acc":0.89},{"panel":"e_tri","step":21,"acc":0.905},{"panel":"e_tri","step":33,"acc":0.91},{"panel":"e_tri","step":42,"acc":0.92},{"panel":"e_tri","step":45,"acc":0.92},{"panel":"e_tri","step":48,"acc":0.915},
{"panel":"e_mnist","step":6,"acc":0.53},{"panel":"e_mnist","step":21,"acc":0.58},{"panel":"e_mnist","step":24,"acc":0.545},{"panel":"e_mnist","step":30,"acc":0.505},{"panel":"e_mnist","step":30,"acc":0.5},{"panel":"e_mnist","step":33,"acc":0.495},{"panel":"e_mnist","step":33,"acc":0.49},{"panel":"e_mnist","step":36,"acc":0.49},{"panel":"e_mnist","step":36,"acc":0.48},{"panel":"e_mnist","step":39,"acc":0.485},{"panel":"e_mnist","step":42,"acc":0.48},{"panel":"e_mnist","step":45,"acc":0.48},{"panel":"e_mnist","step":45,"acc":0.485},{"panel":"e_mnist","step":48,"acc":0.475}
],
"line":[
{"panel":"t_xor","run":"best","step":0,"acc":0.56},{"panel":"t_xor","run":"best","step":1,"acc":0.85},{"panel":"t_xor","run":"best","step":2,"acc":0.82},{"panel":"t_xor","run":"best","step":3,"acc":0.92},{"panel":"t_xor","run":"best","step":4,"acc":0.945},{"panel":"t_xor","run":"best","step":6,"acc":0.95},{"panel":"t_xor","run":"best","step":9,"acc":0.96},{"panel":"t_xor","run":"best","step":10,"acc":0.95},{"panel":"t_xor","run":"best","step":12,"acc":0.955},{"panel":"t_xor","run":"best","step":18,"acc":0.95},{"panel":"t_xor","run":"best","step":27,"acc":0.945},{"panel":"t_xor","run":"best","step":30,"acc":0.95},{"panel":"t_xor","run":"best","step":36,"acc":0.95},{"panel":"t_xor","run":"best","step":42,"acc":0.945},{"panel":"t_xor","run":"best","step":46,"acc":0.945},{"panel":"t_xor","run":"best","step":48,"acc":0.955},
{"panel":"t_xor","run":"worst","step":0,"acc":0.45},{"panel":"t_xor","run":"worst","step":1,"acc":0.68},{"panel":"t_xor","run":"worst","step":2,"acc":0.78},{"panel":"t_xor","run":"worst","step":3,"acc":0.9},{"panel":"t_xor","run":"worst","step":4,"acc":0.93},{"panel":"t_xor","run":"worst","step":5,"acc":0.94},{"panel":"t_xor","run":"worst","step":10,"acc":0.94},{"panel":"t_xor","run":"worst","step":12,"acc":0.945},{"panel":"t_xor","run":"worst","step":15,"acc":0.94},{"panel":"t_xor","run":"worst","step":18,"acc":0.92},{"panel":"t_xor","run":"worst","step":21,"acc":0.92},{"panel":"t_xor","run":"worst","step":24,"acc":0.9},{"panel":"t_xor","run":"worst","step":27,"acc":0.895},{"panel":"t_xor","run":"worst","step":30,"acc":0.88},{"panel":"t_xor","run":"worst","step":33,"acc":0.87},{"panel":"t_xor","run":"worst","step":35,"acc":0.88},{"panel":"t_xor","run":"worst","step":38,"acc":0.85},{"panel":"t_xor","run":"worst","step":40,"acc":0.83},{"panel":"t_xor","run":"worst","step":42,"acc":0.815},{"panel":"t_xor","run":"worst","step":44,"acc":0.78},{"panel":"t_xor","run":"worst","step":46,"acc":0.75},{"panel":"t_xor","run":"worst","step":48,"acc":0.72},{"panel":"t_xor","run":"worst","step":49,"acc":0.72},
{"panel":"t_and","run":"best","step":0,"acc":0.5},{"panel":"t_and","run":"best","step":1,"acc":0.93},{"panel":"t_and","run":"best","step":2,"acc":0.955},{"panel":"t_and","run":"best","step":3,"acc":0.96},{"panel":"t_and","run":"best","step":4,"acc":0.97},{"panel":"t_and","run":"best","step":5,"acc":0.975},{"panel":"t_and","run":"best","step":20,"acc":0.975},{"panel":"t_and","run":"best","step":25,"acc":0.97},{"panel":"t_and","run":"best","step":30,"acc":0.975},{"panel":"t_and","run":"best","step":45,"acc":0.975},{"panel":"t_and","run":"best","step":49,"acc":0.97},
{"panel":"t_and","run":"worst","step":0,"acc":0.45},{"panel":"t_and","run":"worst","step":0.5,"acc":0.7},{"panel":"t_and","run":"worst","step":1,"acc":0.95},{"panel":"t_and","run":"worst","step":3,"acc":0.95},{"panel":"t_and","run":"worst","step":5,"acc":0.96},{"panel":"t_and","run":"worst","step":8,"acc":0.97},{"panel":"t_and","run":"worst","step":10,"acc":0.965},{"panel":"t_and","run":"worst","step":15,"acc":0.96},{"panel":"t_and","run":"worst","step":18,"acc":0.955},{"panel":"t_and","run":"worst","step":21,"acc":0.95},{"panel":"t_and","run":"worst","step":24,"acc":0.95},{"panel":"t_and","run":"worst","step":27,"acc":0.945},{"panel":"t_and","run":"worst","step":30,"acc":0.94},{"panel":"t_and","run":"worst","step":33,"acc":0.94},{"panel":"t_and","run":"worst","step":36,"acc":0.935},{"panel":"t_and","run":"worst","step":40,"acc":0.93},{"panel":"t_and","run":"worst","step":45,"acc":0.925},{"panel":"t_and","run":"worst","step":49,"acc":0.925},
{"panel":"t_twomoon","run":"best","step":0,"acc":0.45},{"panel":"t_twomoon","run":"best","step":0.5,"acc":0.8},{"panel":"t_twomoon","run":"best","step":1,"acc":0.88},{"panel":"t_twomoon","run":"best","step":2,"acc":0.94},{"panel":"t_twomoon","run":"best","step":3,"acc":0.94},{"panel":"t_twomoon","run":"best","step":5,"acc":0.96},{"panel":"t_twomoon","run":"best","step":7,"acc":0.975},{"panel":"t_twomoon","run":"best","step":10,"acc":0.98},{"panel":"t_twomoon","run":"best","step":12,"acc":0.985},{"panel":"t_twomoon","run":"best","step":40,"acc":0.985},{"panel":"t_twomoon","run":"best","step":49,"acc":0.98},
{"panel":"t_twomoon","run":"worst","step":0,"acc":0.79},{"panel":"t_twomoon","run":"worst","step":1,"acc":0.8},{"panel":"t_twomoon","run":"worst","step":2,"acc":0.6},{"panel":"t_twomoon","run":"worst","step":3,"acc":0.63},{"panel":"t_twomoon","run":"worst","step":4,"acc":0.78},{"panel":"t_twomoon","run":"worst","step":5,"acc":0.88},{"panel":"t_twomoon","run":"worst","step":6,"acc":0.93},{"panel":"t_twomoon","run":"worst","step":8,"acc":0.94},{"panel":"t_twomoon","run":"worst","step":10,"acc":0.945},{"panel":"t_twomoon","run":"worst","step":13,"acc":0.945},{"panel":"t_twomoon","run":"worst","step":15,"acc":0.92},{"panel":"t_twomoon","run":"worst","step":16,"acc":0.94},{"panel":"t_twomoon","run":"worst","step":18,"acc":0.8},{"panel":"t_twomoon","run":"worst","step":20,"acc":0.65},{"panel":"t_twomoon","run":"worst","step":22,"acc":0.5},{"panel":"t_twomoon","run":"worst","step":24,"acc":0.4},
{"panel":"t_centercirc","run":"best","step":0,"acc":0.5},{"panel":"t_centercirc","run":"best","step":1,"acc":0.7},{"panel":"t_centercirc","run":"best","step":2,"acc":0.86},{"panel":"t_centercirc","run":"best","step":3,"acc":0.865},{"panel":"t_centercirc","run":"best","step":4,"acc":0.89},{"panel":"t_centercirc","run":"best","step":5,"acc":0.93},{"panel":"t_centercirc","run":"best","step":6,"acc":0.94},{"panel":"t_centercirc","run":"best","step":7,"acc":0.92},{"panel":"t_centercirc","run":"best","step":8,"acc":0.94},{"panel":"t_centercirc","run":"best","step":10,"acc":0.95},{"panel":"t_centercirc","run":"best","step":49,"acc":0.95},
{"panel":"t_centercirc","run":"worst","step":0,"acc":0.52},{"panel":"t_centercirc","run":"worst","step":1,"acc":0.72},{"panel":"t_centercirc","run":"worst","step":2,"acc":0.72},{"panel":"t_centercirc","run":"worst","step":3,"acc":0.8},{"panel":"t_centercirc","run":"worst","step":4,"acc":0.86},{"panel":"t_centercirc","run":"worst","step":5,"acc":0.9},{"panel":"t_centercirc","run":"worst","step":6,"acc":0.91},{"panel":"t_centercirc","run":"worst","step":8,"acc":0.92},{"panel":"t_centercirc","run":"worst","step":10,"acc":0.93},{"panel":"t_centercirc","run":"worst","step":15,"acc":0.925},{"panel":"t_centercirc","run":"worst","step":25,"acc":0.92},{"panel":"t_centercirc","run":"worst","step":28,"acc":0.91},{"panel":"t_centercirc","run":"worst","step":30,"acc":0.905},{"panel":"t_centercirc","run":"worst","step":33,"acc":0.89},{"panel":"t_centercirc","run":"worst","step":36,"acc":0.875},{"panel":"t_centercirc","run":"worst","step":40,"acc":0.855},{"panel":"t_centercirc","run":"worst","step":43,"acc":0.84},{"panel":"t_centercirc","run":"worst","step":46,"acc":0.825},{"panel":"t_centercirc","run":"worst","step":49,"acc":0.81},
{"panel":"t_small","run":"best","step":0,"acc":0.5},{"panel":"t_small","run":"best","step":0.5,"acc":0.7},{"panel":"t_small","run":"best","step":1,"acc":0.9},{"panel":"t_small","run":"best","step":2,"acc":0.9},{"panel":"t_small","run":"best","step":3,"acc":0.965},{"panel":"t_small","run":"best","step":20,"acc":0.965},{"panel":"t_small","run":"best","step":25,"acc":0.96},{"panel":"t_small","run":"best","step":49,"acc":0.96},
{"panel":"t_small","run":"worst","step":0,"acc":0.65},{"panel":"t_small","run":"worst","step":1,"acc":0.9},{"panel":"t_small","run":"worst","step":2,"acc":0.9},{"panel":"t_small","run":"worst","step":3,"acc":0.965},{"panel":"t_small","run":"worst","step":6,"acc":0.97},{"panel":"t_small","run":"worst","step":10,"acc":0.97},{"panel":"t_small","run":"worst","step":15,"acc":0.975},{"panel":"t_small","run":"worst","step":20,"acc":0.97},{"panel":"t_small","run":"worst","step":25,"acc":0.965},{"panel":"t_small","run":"worst","step":30,"acc":0.955},{"panel":"t_small","run":"worst","step":33,"acc":0.93},{"panel":"t_small","run":"worst","step":36,"acc":0.915},{"panel":"t_small","run":"worst","step":39,"acc":0.91},{"panel":"t_small","run":"worst","step":42,"acc":0.91},{"panel":"t_small","run":"worst","step":45,"acc":0.905},{"panel":"t_small","run":"worst","step":49,"acc":0.905},
{"panel":"t_pie","run":"best","step":0,"acc":0.5},{"panel":"t_pie","run":"best","step":1,"acc":0.875},{"panel":"t_pie","run":"best","step":2,"acc":0.89},{"panel":"t_pie","run":"best","step":3,"acc":0.93},{"panel":"t_pie","run":"best","step":4,"acc":0.94},{"panel":"t_pie","run":"best","step":5,"acc":0.945},{"panel":"t_pie","run":"best","step":7,"acc":0.94},{"panel":"t_pie","run":"best","step":9,"acc":0.96},{"panel":"t_pie","run":"best","step":12,"acc":0.965},{"panel":"t_pie","run":"best","step":15,"acc":0.97},{"panel":"t_pie","run":"best","step":49,"acc":0.97},
{"panel":"t_pie","run":"worst","step":0,"acc":0.4},{"panel":"t_pie","run":"worst","step":1,"acc":0.87},{"panel":"t_pie","run":"worst","step":2,"acc":0.94},{"panel":"t_pie","run":"worst","step":3,"acc":0.945},{"panel":"t_pie","run":"worst","step":4,"acc":0.9},{"panel":"t_pie","run":"worst","step":5,"acc":0.945},{"panel":"t_pie","run":"worst","step":10,"acc":0.95},{"panel":"t_pie","run":"worst","step":15,"acc":0.955},{"panel":"t_pie","run":"worst","step":20,"acc":0.95},{"panel":"t_pie","run":"worst","step":30,"acc":0.945},{"panel":"t_pie","run":"worst","step":35,"acc":0.935},{"panel":"t_pie","run":"worst","step":38,"acc":0.93},{"panel":"t_pie","run":"worst","step":40,"acc":0.925},{"panel":"t_pie","run":"worst","step":43,"acc":0.915},{"panel":"t_pie","run":"worst","step":46,"acc":0.905},{"panel":"t_pie","run":"worst","step":49,"acc":0.9},
{"panel":"v_blob","run":"best","step":0,"acc":0.05},{"panel":"v_blob","run":"best","step":1,"acc":0.5},{"panel":"v_blob","run":"best","step":2,"acc":0.75},{"panel":"v_blob","run":"best","step":3,"acc":0.95},{"panel":"v_blob","run":"best","step":4,"acc":0.98},{"panel":"v_blob","run":"best","step":6,"acc":0.985},{"panel":"v_blob","run":"best","step":10,"acc":0.99},{"panel":"v_blob","run":"best","step":49,"acc":0.99},
{"panel":"v_blob","run":"worst","step":0,"acc":0.18},{"panel":"v_blob","run":"worst","step":0.5,"acc":0.5},{"panel":"v_blob","run":"worst","step":1,"acc":0.98},{"panel":"v_blob","run":"worst","step":5,"acc":0.98},{"panel":"v_blob","run":"worst","step":10,"acc":0.985},{"panel":"v_blob","run":"worst","step":20,"acc":0.985},{"panel":"v_blob","run":"worst","step":30,"acc":0.98},{"panel":"v_blob","run":"worst","step":49,"acc":0.98},
{"panel":"v_cross","run":"best","step":0,"acc":0.43},{"panel":"v_cross","run":"best","step":1,"acc":0.52},{"panel":"v_cross","run":"best","step":2,"acc":0.6},{"panel":"v_cross","run":"best","step":3,"acc":0.55},{"panel":"v_cross","run":"best","step":4,"acc":0.58},{"panel":"v_cross","run":"best","step":5,"acc":0.7},{"panel":"v_cross","run":"best","step":6,"acc":0.7},{"panel":"v_cross","run":"best","step":7,"acc":0.72},{"panel":"v_cross","run":"best","step":8,"acc":0.78},{"panel":"v_cross","run":"best","step":9,"acc":0.8},{"panel":"v_cross","run":"best","step":10,"acc":0.79},{"panel":"v_cross","run":"best","step":11,"acc":0.81},{"panel":"v_cross","run":"best","step":12,"acc":0.81},{"panel":"v_cross","run":"best","step":15,"acc":0.8},{"panel":"v_cross","run":"best","step":20,"acc":0.8},{"panel":"v_cross","run":"best","step":22,"acc":0.79},{"panel":"v_cross","run":"best","step":25,"acc":0.795},{"panel":"v_cross","run":"best","step":28,"acc":0.79},{"panel":"v_cross","run":"best","step":36,"acc":0.785},{"panel":"v_cross","run":"best","step":38,"acc":0.79},{"panel":"v_cross","run":"best","step":42,"acc":0.785},{"panel":"v_cross","run":"best","step":45,"acc":0.79},{"panel":"v_cross","run":"best","step":49,"acc":0.785},
{"panel":"v_cross","run":"worst","step":0,"acc":0.48},{"panel":"v_cross","run":"worst","step":1,"acc":0.58},{"panel":"v_cross","run":"worst","step":2,"acc":0.62},{"panel":"v_cross","run":"worst","step":3,"acc":0.67},{"panel":"v_cross","run":"worst","step":5,"acc":0.73},{"panel":"v_cross","run":"worst","step":6,"acc":0.7},{"panel":"v_cross","run":"worst","step":8,"acc":0.72},{"panel":"v_cross","run":"worst","step":10,"acc":0.72},{"panel":"v_cross","run":"worst","step":12,"acc":0.71},{"panel":"v_cross","run":"worst","step":14,"acc":0.7},{"panel":"v_cross","run":"worst","step":16,"acc":0.68},{"panel":"v_cross","run":"worst","step":18,"acc":0.65},{"panel":"v_cross","run":"worst","step":20,"acc":0.61},{"panel":"v_cross","run":"worst","step":22,"acc":0.59},{"panel":"v_cross","run":"worst","step":24,"acc":0.56},{"panel":"v_cross","run":"worst","step":26,"acc":0.53},{"panel":"v_cross","run":"worst","step":28,"acc":0.5},{"panel":"v_cross","run":"worst","step":30,"acc":0.47},{"panel":"v_cross","run":"worst","step":32,"acc":0.45},{"panel":"v_cross","run":"worst","step":34,"acc":0.435},{"panel":"v_cross","run":"worst","step":38,"acc":0.43},{"panel":"v_cross","run":"worst","step":40,"acc":0.42},{"panel":"v_cross","run":"worst","step":42,"acc":0.4},{"panel":"v_cross","run":"worst","step":44,"acc":0.39},{"panel":"v_cross","run":"worst","step":46,"acc":0.37},{"panel":"v_cross","run":"worst","step":49,"acc":0.34},
{"panel":"v_tri","run":"best","step":0,"acc":0.36},{"panel":"v_tri","run":"best","step":1,"acc":0.8},{"panel":"v_tri","run":"best","step":2,"acc":0.72},{"panel":"v_tri","run":"best","step":3,"acc":0.78},{"panel":"v_tri","run":"best","step":4,"acc":0.72},{"panel":"v_tri","run":"best","step":5,"acc":0.82},{"panel":"v_tri","run":"best","step":6,"acc":0.72},{"panel":"v_tri","run":"best","step":7,"acc":0.72},{"panel":"v_tri","run":"best","step":8,"acc":0.84},{"panel":"v_tri","run":"best","step":9,"acc":0.87},{"panel":"v_tri","run":"best","step":10,"acc":0.89},{"panel":"v_tri","run":"best","step":12,"acc":0.9},{"panel":"v_tri","run":"best","step":20,"acc":0.91},{"panel":"v_tri","run":"best","step":49,"acc":0.91},
{"panel":"v_tri","run":"worst","step":0,"acc":0.34},{"panel":"v_tri","run":"worst","step":1,"acc":0.6},{"panel":"v_tri","run":"worst","step":2,"acc":0.78},{"panel":"v_tri","run":"worst","step":3,"acc":0.85},{"panel":"v_tri","run":"worst","step":4,"acc":0.85},{"panel":"v_tri","run":"worst","step":6,"acc":0.82},{"panel":"v_tri","run":"worst","step":8,"acc":0.85},{"panel":"v_tri","run":"worst","step":10,"acc":0.86},{"panel":"v_tri","run":"worst","step":12,"acc":0.86},{"panel":"v_tri","run":"worst","step":15,"acc":0.85},{"panel":"v_tri","run":"worst","step":18,"acc":0.83},{"panel":"v_tri","run":"worst","step":20,"acc":0.82},{"panel":"v_tri","run":"worst","step":25,"acc":0.81},{"panel":"v_tri","run":"worst","step":30,"acc":0.8},{"panel":"v_tri","run":"worst","step":35,"acc":0.8},{"panel":"v_tri","run":"worst","step":43,"acc":0.79},{"panel":"v_tri","run":"worst","step":46,"acc":0.76},{"panel":"v_tri","run":"worst","step":49,"acc":0.7},
{"panel":"v_mnist","run":"best","step":0,"acc":0.11},{"panel":"v_mnist","run":"best","step":1,"acc":0.13},{"panel":"v_mnist","run":"best","step":2,"acc":0.2},{"panel":"v_mnist","run":"best","step":3,"acc":0.28},{"panel":"v_mnist","run":"best","step":4,"acc":0.4},{"panel":"v_mnist","run":"best","step":5,"acc":0.5},{"panel":"v_mnist","run":"best","step":6,"acc":0.59},{"panel":"v_mnist","run":"best","step":8,"acc":0.62},{"panel":"v_mnist","run":"best","step":10,"acc":0.64},{"panel":"v_mnist","run":"best","step":12,"acc":0.645},{"panel":"v_mnist","run":"best","step":15,"acc":0.645},{"panel":"v_mnist","run":"best","step":17,"acc":0.64},{"panel":"v_mnist","run":"best","step":20,"acc":0.62},{"panel":"v_mnist","run":"best","step":22,"acc":0.6},{"panel":"v_mnist","run":"best","step":25,"acc":0.575},{"panel":"v_mnist","run":"best","step":28,"acc":0.555},{"panel":"v_mnist","run":"best","step":30,"acc":0.545},{"panel":"v_mnist","run":"best","step":33,"acc":0.535},{"panel":"v_mnist","run":"best","step":36,"acc":0.53},{"panel":"v_mnist","run":"best","step":40,"acc":0.52},{"panel":"v_mnist","run":"best","step":45,"acc":0.515},{"panel":"v_mnist","run":"best","step":49,"acc":0.51},
{"panel":"v_mnist","run":"worst","step":0,"acc":0.13},{"panel":"v_mnist","run":"worst","step":1,"acc":0.17},{"panel":"v_mnist","run":"worst","step":2,"acc":0.21},{"panel":"v_mnist","run":"worst","step":3,"acc":0.26},{"panel":"v_mnist","run":"worst","step":5,"acc":0.35},{"panel":"v_mnist","run":"worst","step":6,"acc":0.41},{"panel":"v_mnist","run":"worst","step":8,"acc":0.47},{"panel":"v_mnist","run":"worst","step":10,"acc":0.48},{"panel":"v_mnist","run":"worst","step":12,"acc":0.47},{"panel":"v_mnist","run":"worst","step":14,"acc":0.43},{"panel":"v_mnist","run":"worst","step":16,"acc":0.38},{"panel":"v_mnist","run":"worst","step":18,"acc":0.33},{"panel":"v_mnist","run":"worst","step":20,"acc":0.28},{"panel":"v_mnist","run":"worst","step":22,"acc":0.24},{"panel":"v_mnist","run":"worst","step":25,"acc":0.2},{"panel":"v_mnist","run":"worst","step":28,"acc":0.17},{"panel":"v_mnist","run":"worst","step":30,"acc":0.15},{"panel":"v_mnist","run":"worst","step":35,"acc":0.12},{"panel":"v_mnist","run":"worst","step":40,"acc":0.1},{"panel":"v_mnist","run":"worst","step":45,"acc":0.085},{"panel":"v_mnist","run":"worst","step":49,"acc":0.075},
{"panel":"e_blob","run":"mean","step":0,"acc":0.07},{"panel":"e_blob","run":"mean","step":1,"acc":0.87},{"panel":"e_blob","run":"mean","step":2,"acc":0.93},{"panel":"e_blob","run":"mean","step":3,"acc":0.975},{"panel":"e_blob","run":"mean","step":4,"acc":0.985},{"panel":"e_blob","run":"mean","step":6,"acc":0.99},{"panel":"e_blob","run":"mean","step":20,"acc":0.99},{"panel":"e_blob","run":"mean","step":25,"acc":0.985},{"panel":"e_blob","run":"mean","step":30,"acc":0.98},{"panel":"e_blob","run":"mean","step":49,"acc":0.98},
{"panel":"e_cross","run":"mean","step":0,"acc":0.44},{"panel":"e_cross","run":"mean","step":1,"acc":0.635},{"panel":"e_cross","run":"mean","step":2,"acc":0.575},{"panel":"e_cross","run":"mean","step":3,"acc":0.625},{"panel":"e_cross","run":"mean","step":4,"acc":0.7},{"panel":"e_cross","run":"mean","step":5,"acc":0.695},{"panel":"e_cross","run":"mean","step":6,"acc":0.75},{"panel":"e_cross","run":"mean","step":7,"acc":0.77},{"panel":"e_cross","run":"mean","step":8,"acc":0.78},{"panel":"e_cross","run":"mean","step":9,"acc":0.785},{"panel":"e_cross","run":"mean","step":10,"acc":0.8},{"panel":"e_cross","run":"mean","step":12,"acc":0.8},{"panel":"e_cross","run":"mean","step":14,"acc":0.815},{"panel":"e_cross","run":"mean","step":15,"acc":0.81},{"panel":"e_cross","run":"mean","step":17,"acc":0.815},{"panel":"e_cross","run":"mean","step":22,"acc":0.815},{"panel":"e_cross","run":"mean","step":25,"acc":0.81},{"panel":"e_cross","run":"mean","step":30,"acc":0.805},{"panel":"e_cross","run":"mean","step":35,"acc":0.8},{"panel":"e_cross","run":"mean","step":45,"acc":0.8},{"panel":"e_cross","run":"mean","step":49,"acc":0.795},
{"panel":"e_tri","run":"mean","step":0,"acc":0.375},{"panel":"e_tri","run":"mean","step":1,"acc":0.645},{"panel":"e_tri","run":"mean","step":2,"acc":0.62},{"panel":"e_tri","run":"mean","step":3,"acc":0.61},{"panel":"e_tri","run":"mean","step":4,"acc":0.79},{"panel":"e_tri","run":"mean","step":5,"acc":0.84},{"panel":"e_tri","run":"mean","step":6,"acc":0.855},{"panel":"e_tri","run":"mean","step":7,"acc":0.87},{"panel":"e_tri","run":"mean","step":8,"acc":0.875},{"panel":"e_tri","run":"mean","step":10,"acc":0.89},{"panel":"e_tri","run":"mean","step":12,"acc":0.9},{"panel":"e_tri","run":"mean","step":15,"acc":0.905},{"panel":"e_tri","run":"mean","step":20,"acc":0.91},{"panel":"e_tri","run":"mean","step":45,"acc":0.91},{"panel":"e_tri","run":"mean","step":46,"acc":0.915},{"panel":"e_tri","run":"mean","step":47,"acc":0.91},{"panel":"e_tri","run":"mean","step":49,"acc":0.91},
{"panel":"e_mnist","run":"mean","step":0,"acc":0.11},{"panel":"e_mnist","run":"mean","step":1,"acc":0.12},{"panel":"e_mnist","run":"mean","step":2,"acc":0.15},{"panel":"e_mnist","run":"mean","step":3,"acc":0.26},{"panel":"e_mnist","run":"mean","step":4,"acc":0.39},{"panel":"e_mnist","run":"mean","step":5,"acc":0.5},{"panel":"e_mnist","run":"mean","step":6,"acc":0.56},{"panel":"e_mnist","run":"mean","step":7,"acc":0.59},{"panel":"e_mnist","run":"mean","step":8,"acc":0.615},{"panel":"e_mnist","run":"mean","step":10,"acc":0.635},{"panel":"e_mnist","run":"mean","step":12,"acc":0.645},{"panel":"e_mnist","run":"mean","step":15,"acc":0.645},{"panel":"e_mnist","run":"mean","step":17,"acc":0.64},{"panel":"e_mnist","run":"mean","step":19,"acc":0.625},{"panel":"e_mnist","run":"mean","step":21,"acc":0.605},{"panel":"e_mnist","run":"mean","step":23,"acc":0.585},{"panel":"e_mnist","run":"mean","step":25,"acc":0.565},{"panel":"e_mnist","run":"mean","step":27,"acc":0.55},{"panel":"e_mnist","run":"mean","step":30,"acc":0.53},{"panel":"e_mnist","run":"mean","step":33,"acc":0.52},{"panel":"e_mnist","run":"mean","step":36,"acc":0.515},{"panel":"e_mnist","run":"mean","step":40,"acc":0.51},{"panel":"e_mnist","run":"mean","step":49,"acc":0.505}
]
},
"spacing":8,
"resolve":{"scale":{"color":"independent","strokeDash":"independent"}},
"vconcat":[
{"title":{"text":"Training accuracy across multiple meta-train runs","fontSize":14.5,"anchor":"middle","offset":5},
 "spacing":18,"resolve":{"scale":{"color":"independent","strokeDash":"independent"}},
 "hconcat":[
  {"width":175,"height":100,"title":{"text":"xor"},"layer":[
   {"data":{"name":"box"},"transform":[{"filter":"datum.panel=='t_xor'"}],"mark":{"type":"rule","color":"black","strokeWidth":1,"clip":true},"encoding":{"x":{"field":"step","type":"quantitative","scale":{"domain":[-2.45,51.45],"nice":false,"zero":false},"axis":{"values":[0,10,20,30,40,50],"tickCount":50,"title":"Unroll steps","style":"tr"}},"y":{"field":"lo","type":"quantitative","scale":{"domain":[0.5,1],"nice":false,"zero":false},"axis":{"values":[0.5,0.6,0.7,0.8,0.9,1],"tickCount":50,"format":".1f","title":"Accuracy","style":"tr"}},"y2":{"field":"hi"}}},
   {"data":{"name":"box"},"transform":[{"filter":"datum.panel=='t_xor'"}],"mark":{"type":"bar","size":5,"fill":"white","fillOpacity":0,"stroke":"black","strokeWidth":1,"clip":true},"encoding":{"x":{"field":"step","type":"quantitative"},"y":{"field":"q1","type":"quantitative"},"y2":{"field":"q3"}}},
   {"data":{"name":"box"},"transform":[{"filter":"datum.panel=='t_xor'"},{"fold":["lo","hi"],"as":["end","acc"]}],"mark":{"type":"tick","orient":"horizontal","size":3,"thickness":1,"color":"black","clip":true},"encoding":{"x":{"field":"step","type":"quantitative"},"y":{"field":"acc","type":"quantitative"}}},
   {"data":{"name":"box"},"transform":[{"filter":"datum.panel=='t_xor'"}],"mark":{"type":"tick","orient":"horizontal","size":5,"thickness":1,"color":"#ff7f0e","clip":true},"encoding":{"x":{"field":"step","type":"quantitative"},"y":{"field":"med","type":"quantitative"}}},
   {"data":{"name":"out"},"transform":[{"filter":"datum.panel=='t_xor'"}],"mark":{"type":"point","shape":"circle","filled":false,"color":"black","size":12,"strokeWidth":0.9,"clip":true},"encoding":{"x":{"field":"step","type":"quantitative"},"y":{"field":"acc","type":"quantitative"}}},
   {"data":{"name":"line"},"transform":[{"filter":"datum.panel=='t_xor'"}],"mark":{"type":"line","strokeWidth":2,"clip":true},"encoding":{"x":{"field":"step","type":"quantitative"},"y":{"field":"acc","type":"quantitative"},"color":{"field":"run","type":"nominal","scale":{"domain":["best","worst"],"range":["#0000ff","#ff0000"]},"legend":null},"strokeDash":{"field":"run","type":"nominal","scale":{"domain":["best","worst"],"range":[[6,3],[8,3,2,3]]},"legend":null}}}
  ]},
  {"width":175,"height":100,"title":{"text":"and"},"layer":[
   {"data":{"name":"box"},"transform":[{"filter":"datum.panel=='t_and'"}],"mark":{"type":"rule","color":"black","strokeWidth":1,"clip":true},"encoding":{"x":{"field":"step","type":"quantitative","scale":{"domain":[-2.45,51.45],"nice":false,"zero":false},"axis":{"values":[0,10,20,30,40,50],"tickCount":50,"title":"Unroll steps","style":"tr"}},"y":{"field":"lo","type":"quantitative","scale":{"domain":[0.5,1],"nice":false,"zero":false},"axis":{"values":[0.5,0.6,0.7,0.8,0.9,1],"tickCount":50,"format":".1f","title":null,"style":"tr"}},"y2":{"field":"hi"}}},
   {"data":{"name":"box"},"transform":[{"filter":"datum.panel=='t_and'"}],"mark":{"type":"bar","size":5,"fill":"white","fillOpacity":0,"stroke":"black","strokeWidth":1,"clip":true},"encoding":{"x":{"field":"step","type":"quantitative"},"y":{"field":"q1","type":"quantitative"},"y2":{"field":"q3"}}},
   {"data":{"name":"box"},"transform":[{"filter":"datum.panel=='t_and'"},{"fold":["lo","hi"],"as":["end","acc"]}],"mark":{"type":"tick","orient":"horizontal","size":3,"thickness":1,"color":"black","clip":true},"encoding":{"x":{"field":"step","type":"quantitative"},"y":{"field":"acc","type":"quantitative"}}},
   {"data":{"name":"box"},"transform":[{"filter":"datum.panel=='t_and'"}],"mark":{"type":"tick","orient":"horizontal","size":5,"thickness":1,"color":"#ff7f0e","clip":true},"encoding":{"x":{"field":"step","type":"quantitative"},"y":{"field":"med","type":"quantitative"}}},
   {"data":{"name":"out"},"transform":[{"filter":"datum.panel=='t_and'"}],"mark":{"type":"point","shape":"circle","filled":false,"color":"black","size":12,"strokeWidth":0.9,"clip":true},"encoding":{"x":{"field":"step","type":"quantitative"},"y":{"field":"acc","type":"quantitative"}}},
   {"data":{"name":"line"},"transform":[{"filter":"datum.panel=='t_and'"}],"mark":{"type":"line","strokeWidth":2,"clip":true},"encoding":{"x":{"field":"step","type":"quantitative"},"y":{"field":"acc","type":"quantitative"},"color":{"field":"run","type":"nominal","scale":{"domain":["best","worst"],"range":["#0000ff","#ff0000"]},"legend":null},"strokeDash":{"field":"run","type":"nominal","scale":{"domain":["best","worst"],"range":[[6,3],[8,3,2,3]]},"legend":null}}}
  ]},
  {"width":175,"height":100,"title":{"text":"twomoon"},"layer":[
   {"data":{"name":"box"},"transform":[{"filter":"datum.panel=='t_twomoon'"}],"mark":{"type":"rule","color":"black","strokeWidth":1,"clip":true},"encoding":{"x":{"field":"step","type":"quantitative","scale":{"domain":[-2.45,51.45],"nice":false,"zero":false},"axis":{"values":[0,10,20,30,40,50],"tickCount":50,"title":"Unroll steps","style":"tr"}},"y":{"field":"lo","type":"quantitative","scale":{"domain":[0.5,1],"nice":false,"zero":false},"axis":{"values":[0.5,0.6,0.7,0.8,0.9,1],"tickCount":50,"format":".1f","title":null,"style":"tr"}},"y2":{"field":"hi"}}},
   {"data":{"name":"box"},"transform":[{"filter":"datum.panel=='t_twomoon'"}],"mark":{"type":"bar","size":5,"fill":"white","fillOpacity":0,"stroke":"black","strokeWidth":1,"clip":true},"encoding":{"x":{"field":"step","type":"quantitative"},"y":{"field":"q1","type":"quantitative"},"y2":{"field":"q3"}}},
   {"data":{"name":"box"},"transform":[{"filter":"datum.panel=='t_twomoon'"},{"fold":["lo","hi"],"as":["end","acc"]}],"mark":{"type":"tick","orient":"horizontal","size":3,"thickness":1,"color":"black","clip":true},"encoding":{"x":{"field":"step","type":"quantitative"},"y":{"field":"acc","type":"quantitative"}}},
   {"data":{"name":"box"},"transform":[{"filter":"datum.panel=='t_twomoon'"}],"mark":{"type":"tick","orient":"horizontal","size":5,"thickness":1,"color":"#ff7f0e","clip":true},"encoding":{"x":{"field":"step","type":"quantitative"},"y":{"field":"med","type":"quantitative"}}},
   {"data":{"name":"out"},"transform":[{"filter":"datum.panel=='t_twomoon'"}],"mark":{"type":"point","shape":"circle","filled":false,"color":"black","size":12,"strokeWidth":0.9,"clip":true},"encoding":{"x":{"field":"step","type":"quantitative"},"y":{"field":"acc","type":"quantitative"}}},
   {"data":{"name":"line"},"transform":[{"filter":"datum.panel=='t_twomoon'"}],"mark":{"type":"line","strokeWidth":2,"clip":true},"encoding":{"x":{"field":"step","type":"quantitative"},"y":{"field":"acc","type":"quantitative"},"color":{"field":"run","type":"nominal","scale":{"domain":["best","worst"],"range":["#0000ff","#ff0000"]},"legend":null},"strokeDash":{"field":"run","type":"nominal","scale":{"domain":["best","worst"],"range":[[6,3],[8,3,2,3]]},"legend":null}}}
  ]},
  {"width":175,"height":100,"title":{"text":"centercirc"},"layer":[
   {"data":{"name":"box"},"transform":[{"filter":"datum.panel=='t_centercirc'"}],"mark":{"type":"rule","color":"black","strokeWidth":1,"clip":true},"encoding":{"x":{"field":"step","type":"quantitative","scale":{"domain":[-2.45,51.45],"nice":false,"zero":false},"axis":{"values":[0,10,20,30,40,50],"tickCount":50,"title":"Unroll steps","style":"tr"}},"y":{"field":"lo","type":"quantitative","scale":{"domain":[0.5,1],"nice":false,"zero":false},"axis":{"values":[0.5,0.6,0.7,0.8,0.9,1],"tickCount":50,"format":".1f","title":null,"style":"tr"}},"y2":{"field":"hi"}}},
   {"data":{"name":"box"},"transform":[{"filter":"datum.panel=='t_centercirc'"}],"mark":{"type":"bar","size":5,"fill":"white","fillOpacity":0,"stroke":"black","strokeWidth":1,"clip":true},"encoding":{"x":{"field":"step","type":"quantitative"},"y":{"field":"q1","type":"quantitative"},"y2":{"field":"q3"}}},
   {"data":{"name":"box"},"transform":[{"filter":"datum.panel=='t_centercirc'"},{"fold":["lo","hi"],"as":["end","acc"]}],"mark":{"type":"tick","orient":"horizontal","size":3,"thickness":1,"color":"black","clip":true},"encoding":{"x":{"field":"step","type":"quantitative"},"y":{"field":"acc","type":"quantitative"}}},
   {"data":{"name":"box"},"transform":[{"filter":"datum.panel=='t_centercirc'"}],"mark":{"type":"tick","orient":"horizontal","size":5,"thickness":1,"color":"#ff7f0e","clip":true},"encoding":{"x":{"field":"step","type":"quantitative"},"y":{"field":"med","type":"quantitative"}}},
   {"data":{"name":"out"},"transform":[{"filter":"datum.panel=='t_centercirc'"}],"mark":{"type":"point","shape":"circle","filled":false,"color":"black","size":12,"strokeWidth":0.9,"clip":true},"encoding":{"x":{"field":"step","type":"quantitative"},"y":{"field":"acc","type":"quantitative"}}},
   {"data":{"name":"line"},"transform":[{"filter":"datum.panel=='t_centercirc'"}],"mark":{"type":"line","strokeWidth":2,"clip":true},"encoding":{"x":{"field":"step","type":"quantitative"},"y":{"field":"acc","type":"quantitative"},"color":{"field":"run","type":"nominal","scale":{"domain":["best","worst"],"range":["#0000ff","#ff0000"]},"legend":null},"strokeDash":{"field":"run","type":"nominal","scale":{"domain":["best","worst"],"range":[[6,3],[8,3,2,3]]},"legend":null}}}
  ]},
  {"width":175,"height":100,"title":{"text":"smallcentercirc"},"layer":[
   {"data":{"name":"box"},"transform":[{"filter":"datum.panel=='t_small'"}],"mark":{"type":"rule","color":"black","strokeWidth":1,"clip":true},"encoding":{"x":{"field":"step","type":"quantitative","scale":{"domain":[-2.45,51.45],"nice":false,"zero":false},"axis":{"values":[0,10,20,30,40,50],"tickCount":50,"title":"Unroll steps","style":"tr"}},"y":{"field":"lo","type":"quantitative","scale":{"domain":[0.5,1],"nice":false,"zero":false},"axis":{"values":[0.5,0.6,0.7,0.8,0.9,1],"tickCount":50,"format":".1f","title":null,"style":"tr"}},"y2":{"field":"hi"}}},
   {"data":{"name":"box"},"transform":[{"filter":"datum.panel=='t_small'"}],"mark":{"type":"bar","size":5,"fill":"white","fillOpacity":0,"stroke":"black","strokeWidth":1,"clip":true},"encoding":{"x":{"field":"step","type":"quantitative"},"y":{"field":"q1","type":"quantitative"},"y2":{"field":"q3"}}},
   {"data":{"name":"box"},"transform":[{"filter":"datum.panel=='t_small'"},{"fold":["lo","hi"],"as":["end","acc"]}],"mark":{"type":"tick","orient":"horizontal","size":3,"thickness":1,"color":"black","clip":true},"encoding":{"x":{"field":"step","type":"quantitative"},"y":{"field":"acc","type":"quantitative"}}},
   {"data":{"name":"box"},"transform":[{"filter":"datum.panel=='t_small'"}],"mark":{"type":"tick","orient":"horizontal","size":5,"thickness":1,"color":"#ff7f0e","clip":true},"encoding":{"x":{"field":"step","type":"quantitative"},"y":{"field":"med","type":"quantitative"}}},
   {"data":{"name":"out"},"transform":[{"filter":"datum.panel=='t_small'"}],"mark":{"type":"point","shape":"circle","filled":false,"color":"black","size":12,"strokeWidth":0.9,"clip":true},"encoding":{"x":{"field":"step","type":"quantitative"},"y":{"field":"acc","type":"quantitative"}}},
   {"data":{"name":"line"},"transform":[{"filter":"datum.panel=='t_small'"}],"mark":{"type":"line","strokeWidth":2,"clip":true},"encoding":{"x":{"field":"step","type":"quantitative"},"y":{"field":"acc","type":"quantitative"},"color":{"field":"run","type":"nominal","scale":{"domain":["best","worst"],"range":["#0000ff","#ff0000"]},"legend":null},"strokeDash":{"field":"run","type":"nominal","scale":{"domain":["best","worst"],"range":[[6,3],[8,3,2,3]]},"legend":null}}}
  ]},
  {"width":175,"height":100,"title":{"text":"pieslice"},"layer":[
   {"data":{"name":"box"},"transform":[{"filter":"datum.panel=='t_pie'"}],"mark":{"type":"rule","color":"black","strokeWidth":1,"clip":true},"encoding":{"x":{"field":"step","type":"quantitative","scale":{"domain":[-2.45,51.45],"nice":false,"zero":false},"axis":{"values":[0,10,20,30,40,50],"tickCount":50,"title":"Unroll steps","style":"tr"}},"y":{"field":"lo","type":"quantitative","scale":{"domain":[0.5,1],"nice":false,"zero":false},"axis":{"values":[0.5,0.6,0.7,0.8,0.9,1],"tickCount":50,"format":".1f","title":null,"style":"tr"}},"y2":{"field":"hi"}}},
   {"data":{"name":"box"},"transform":[{"filter":"datum.panel=='t_pie'"}],"mark":{"type":"bar","size":5,"fill":"white","fillOpacity":0,"stroke":"black","strokeWidth":1,"clip":true},"encoding":{"x":{"field":"step","type":"quantitative"},"y":{"field":"q1","type":"quantitative"},"y2":{"field":"q3"}}},
   {"data":{"name":"box"},"transform":[{"filter":"datum.panel=='t_pie'"},{"fold":["lo","hi"],"as":["end","acc"]}],"mark":{"type":"tick","orient":"horizontal","size":3,"thickness":1,"color":"black","clip":true},"encoding":{"x":{"field":"step","type":"quantitative"},"y":{"field":"acc","type":"quantitative"}}},
   {"data":{"name":"box"},"transform":[{"filter":"datum.panel=='t_pie'"}],"mark":{"type":"tick","orient":"horizontal","size":5,"thickness":1,"color":"#ff7f0e","clip":true},"encoding":{"x":{"field":"step","type":"quantitative"},"y":{"field":"med","type":"quantitative"}}},
   {"data":{"name":"out"},"transform":[{"filter":"datum.panel=='t_pie'"}],"mark":{"type":"point","shape":"circle","filled":false,"color":"black","size":12,"strokeWidth":0.9,"clip":true},"encoding":{"x":{"field":"step","type":"quantitative"},"y":{"field":"acc","type":"quantitative"}}},
   {"data":{"name":"line"},"transform":[{"filter":"datum.panel=='t_pie'"}],"mark":{"type":"line","strokeWidth":2,"clip":true},"encoding":{"x":{"field":"step","type":"quantitative"},"y":{"field":"acc","type":"quantitative"},"color":{"field":"run","type":"nominal","scale":{"domain":["best","worst"],"range":["#0000ff","#ff0000"]},"legend":{"title":null,"orient":"bottom-right","offset":4,"labelExpr":"datum.label=='best'?'Best meta-training run':'Worst meta-training run'","symbolType":"stroke","symbolStrokeWidth":2,"symbolSize":450,"labelFontSize":12,"labelLimit":400,"fillColor":"rgba(255,255,255,0.8)","strokeColor":"#cccccc","cornerRadius":3,"padding":3,"rowPadding":0}},"strokeDash":{"field":"run","type":"nominal","scale":{"domain":["best","worst"],"range":[[6,3],[8,3,2,3]]},"legend":{"title":null,"orient":"bottom-right","offset":4,"labelExpr":"datum.label=='best'?'Best meta-training run':'Worst meta-training run'","symbolType":"stroke","symbolStrokeWidth":2,"symbolSize":450,"labelFontSize":12,"labelLimit":400,"fillColor":"rgba(255,255,255,0.8)","strokeColor":"#cccccc","cornerRadius":3,"padding":3,"rowPadding":0}}}}
  ]}
 ]},
{"spacing":0,"resolve":{"scale":{"color":"independent","strokeDash":"independent"}},
 "hconcat":[
  {"spacing":0,"resolve":{"scale":{"color":"independent","strokeDash":"independent"}},"vconcat":[
   {"width":487,"height":41,"data":{"name":"sep"},"view":{"stroke":null},"mark":{"type":"rule","color":"#333","strokeWidth":1},"encoding":{"y":{"datum":1,"type":"quantitative","scale":{"domain":[0,1]},"axis":null}}},
   {"spacing":0,"resolve":{"scale":{"color":"independent","strokeDash":"independent"}},"vconcat":[
   {"spacing":27,"resolve":{"scale":{"color":"independent","strokeDash":"independent"}},"title":{"text":"Validation  accuracy across multiple meta-train runs","fontSize":13,"anchor":"middle","offset":6},"hconcat":[
    {"width":205,"height":88,"title":{"text":"blob5x1"},"layer":[
     {"data":{"name":"box"},"transform":[{"filter":"datum.panel=='v_blob'"}],"mark":{"type":"rule","color":"black","strokeWidth":1,"clip":true},"encoding":{"x":{"field":"step","type":"quantitative","scale":{"domain":[-2.45,51.45],"nice":false,"zero":false},"axis":{"values":[0,10,20,30,40,50],"tickCount":50,"title":null,"style":"va"}},"y":{"field":"lo","type":"quantitative","scale":{"domain":[-0.045,1.05],"nice":false,"zero":false},"axis":{"values":[0,0.5,1],"tickCount":50,"format":".1f","title":"Accuracy","style":"va"}},"y2":{"field":"hi"}}},
     {"data":{"name":"box"},"transform":[{"filter":"datum.panel=='v_blob'"}],"mark":{"type":"bar","size":5,"fill":"white","fillOpacity":0,"stroke":"black","strokeWidth":1,"clip":true},"encoding":{"x":{"field":"step","type":"quantitative"},"y":{"field":"q1","type":"quantitative"},"y2":{"field":"q3"}}},
     {"data":{"name":"box"},"transform":[{"filter":"datum.panel=='v_blob'"},{"fold":["lo","hi"],"as":["end","acc"]}],"mark":{"type":"tick","orient":"horizontal","size":3,"thickness":1,"color":"black","clip":true},"encoding":{"x":{"field":"step","type":"quantitative"},"y":{"field":"acc","type":"quantitative"}}},
     {"data":{"name":"box"},"transform":[{"filter":"datum.panel=='v_blob'"}],"mark":{"type":"tick","orient":"horizontal","size":5,"thickness":1,"color":"#ff7f0e","clip":true},"encoding":{"x":{"field":"step","type":"quantitative"},"y":{"field":"med","type":"quantitative"}}},
     {"data":{"name":"out"},"transform":[{"filter":"datum.panel=='v_blob'"}],"mark":{"type":"point","shape":"circle","filled":false,"color":"black","size":12,"strokeWidth":0.9,"clip":true},"encoding":{"x":{"field":"step","type":"quantitative"},"y":{"field":"acc","type":"quantitative"}}},
     {"data":{"name":"line"},"transform":[{"filter":"datum.panel=='v_blob'"}],"mark":{"type":"line","strokeWidth":2,"clip":true},"encoding":{"x":{"field":"step","type":"quantitative"},"y":{"field":"acc","type":"quantitative"},"color":{"field":"run","type":"nominal","scale":{"domain":["best","worst"],"range":["#0000ff","#ff0000"]},"legend":null},"strokeDash":{"field":"run","type":"nominal","scale":{"domain":["best","worst"],"range":[[6,3],[8,3,2,3]]},"legend":null}}}
    ]},
    {"width":205,"height":88,"title":{"text":"cross"},"layer":[
     {"data":{"name":"box"},"transform":[{"filter":"datum.panel=='v_cross'"}],"mark":{"type":"rule","color":"black","strokeWidth":1,"clip":true},"encoding":{"x":{"field":"step","type":"quantitative","scale":{"domain":[-2.45,51.45],"nice":false,"zero":false},"axis":{"values":[0,10,20,30,40,50],"tickCount":50,"title":null,"style":"va"}},"y":{"field":"lo","type":"quantitative","scale":{"domain":[0.233,0.873],"nice":false,"zero":false},"axis":{"values":[0.4,0.6,0.8],"tickCount":50,"format":".1f","title":null,"style":"va"}},"y2":{"field":"hi"}}},
     {"data":{"name":"box"},"transform":[{"filter":"datum.panel=='v_cross'"}],"mark":{"type":"bar","size":5,"fill":"white","fillOpacity":0,"stroke":"black","strokeWidth":1,"clip":true},"encoding":{"x":{"field":"step","type":"quantitative"},"y":{"field":"q1","type":"quantitative"},"y2":{"field":"q3"}}},
     {"data":{"name":"box"},"transform":[{"filter":"datum.panel=='v_cross'"},{"fold":["lo","hi"],"as":["end","acc"]}],"mark":{"type":"tick","orient":"horizontal","size":3,"thickness":1,"color":"black","clip":true},"encoding":{"x":{"field":"step","type":"quantitative"},"y":{"field":"acc","type":"quantitative"}}},
     {"data":{"name":"box"},"transform":[{"filter":"datum.panel=='v_cross'"}],"mark":{"type":"tick","orient":"horizontal","size":5,"thickness":1,"color":"#ff7f0e","clip":true},"encoding":{"x":{"field":"step","type":"quantitative"},"y":{"field":"med","type":"quantitative"}}},
     {"data":{"name":"out"},"transform":[{"filter":"datum.panel=='v_cross'"}],"mark":{"type":"point","shape":"circle","filled":false,"color":"black","size":12,"strokeWidth":0.9,"clip":true},"encoding":{"x":{"field":"step","type":"quantitative"},"y":{"field":"acc","type":"quantitative"}}},
     {"data":{"name":"line"},"transform":[{"filter":"datum.panel=='v_cross'"}],"mark":{"type":"line","strokeWidth":2,"clip":true},"encoding":{"x":{"field":"step","type":"quantitative"},"y":{"field":"acc","type":"quantitative"},"color":{"field":"run","type":"nominal","scale":{"domain":["best","worst"],"range":["#0000ff","#ff0000"]},"legend":null},"strokeDash":{"field":"run","type":"nominal","scale":{"domain":["best","worst"],"range":[[6,3],[8,3,2,3]]},"legend":null}}}
    ]}
   ]},
   {"spacing":27,"resolve":{"scale":{"color":"independent","strokeDash":"independent"}},"hconcat":[
    {"width":205,"height":89,"title":{"text":"triangle","offset":0},"layer":[
     {"data":{"name":"box"},"transform":[{"filter":"datum.panel=='v_tri'"}],"mark":{"type":"rule","color":"black","strokeWidth":1,"clip":true},"encoding":{"x":{"field":"step","type":"quantitative","scale":{"domain":[-2.45,51.45],"nice":false,"zero":false},"axis":{"values":[0,10,20,30,40,50],"tickCount":50,"title":"Unroll steps","style":"va"}},"y":{"field":"lo","type":"quantitative","scale":{"domain":[0.13,0.96],"nice":false,"zero":false},"axis":{"values":[0.25,0.5,0.75],"tickCount":50,"format":".2f","title":"Accuracy","style":"va"}},"y2":{"field":"hi"}}},
     {"data":{"name":"box"},"transform":[{"filter":"datum.panel=='v_tri'"}],"mark":{"type":"bar","size":5,"fill":"white","fillOpacity":0,"stroke":"black","strokeWidth":1,"clip":true},"encoding":{"x":{"field":"step","type":"quantitative"},"y":{"field":"q1","type":"quantitative"},"y2":{"field":"q3"}}},
     {"data":{"name":"box"},"transform":[{"filter":"datum.panel=='v_tri'"},{"fold":["lo","hi"],"as":["end","acc"]}],"mark":{"type":"tick","orient":"horizontal","size":3,"thickness":1,"color":"black","clip":true},"encoding":{"x":{"field":"step","type":"quantitative"},"y":{"field":"acc","type":"quantitative"}}},
     {"data":{"name":"box"},"transform":[{"filter":"datum.panel=='v_tri'"}],"mark":{"type":"tick","orient":"horizontal","size":5,"thickness":1,"color":"#ff7f0e","clip":true},"encoding":{"x":{"field":"step","type":"quantitative"},"y":{"field":"med","type":"quantitative"}}},
     {"data":{"name":"out"},"transform":[{"filter":"datum.panel=='v_tri'"}],"mark":{"type":"point","shape":"circle","filled":false,"color":"black","size":12,"strokeWidth":0.9,"clip":true},"encoding":{"x":{"field":"step","type":"quantitative"},"y":{"field":"acc","type":"quantitative"}}},
     {"data":{"name":"line"},"transform":[{"filter":"datum.panel=='v_tri'"}],"mark":{"type":"line","strokeWidth":2,"clip":true},"encoding":{"x":{"field":"step","type":"quantitative"},"y":{"field":"acc","type":"quantitative"},"color":{"field":"run","type":"nominal","scale":{"domain":["best","worst"],"range":["#0000ff","#ff0000"]},"legend":null},"strokeDash":{"field":"run","type":"nominal","scale":{"domain":["best","worst"],"range":[[6,3],[8,3,2,3]]},"legend":null}}}
    ]},
    {"width":205,"height":89,"title":{"text":"mnist:0-9","offset":0},"layer":[
     {"data":{"name":"box"},"transform":[{"filter":"datum.panel=='v_mnist'"}],"mark":{"type":"rule","color":"black","strokeWidth":1,"clip":true},"encoding":{"x":{"field":"step","type":"quantitative","scale":{"domain":[-2.45,51.45],"nice":false,"zero":false},"axis":{"values":[0,10,20,30,40,50],"tickCount":50,"title":"Unroll steps","style":"va"}},"y":{"field":"lo","type":"quantitative","scale":{"domain":[0.045,0.712],"nice":false,"zero":false},"axis":{"values":[0.2,0.4,0.6],"tickCount":50,"format":".1f","title":null,"style":"va"}},"y2":{"field":"hi"}}},
     {"data":{"name":"box"},"transform":[{"filter":"datum.panel=='v_mnist'"}],"mark":{"type":"bar","size":5,"fill":"white","fillOpacity":0,"stroke":"black","strokeWidth":1,"clip":true},"encoding":{"x":{"field":"step","type":"quantitative"},"y":{"field":"q1","type":"quantitative"},"y2":{"field":"q3"}}},
     {"data":{"name":"box"},"transform":[{"filter":"datum.panel=='v_mnist'"},{"fold":["lo","hi"],"as":["end","acc"]}],"mark":{"type":"tick","orient":"horizontal","size":3,"thickness":1,"color":"black","clip":true},"encoding":{"x":{"field":"step","type":"quantitative"},"y":{"field":"acc","type":"quantitative"}}},
     {"data":{"name":"box"},"transform":[{"filter":"datum.panel=='v_mnist'"}],"mark":{"type":"tick","orient":"horizontal","size":5,"thickness":1,"color":"#ff7f0e","clip":true},"encoding":{"x":{"field":"step","type":"quantitative"},"y":{"field":"med","type":"quantitative"}}},
     {"data":{"name":"out"},"transform":[{"filter":"datum.panel=='v_mnist'"}],"mark":{"type":"point","shape":"circle","filled":false,"color":"black","size":12,"strokeWidth":0.9,"clip":true},"encoding":{"x":{"field":"step","type":"quantitative"},"y":{"field":"acc","type":"quantitative"}}},
     {"data":{"name":"line"},"transform":[{"filter":"datum.panel=='v_mnist'"}],"mark":{"type":"line","strokeWidth":2,"clip":true},"encoding":{"x":{"field":"step","type":"quantitative"},"y":{"field":"acc","type":"quantitative"},"color":{"field":"run","type":"nominal","scale":{"domain":["best","worst"],"range":["#0000ff","#ff0000"]},"legend":{"title":null,"orient":"bottom-right","offset":5,"labelExpr":"datum.label=='best'?'Best meta-training run':'Worst meta-training run'","symbolType":"stroke","symbolStrokeWidth":2,"symbolSize":450,"labelFontSize":11.5,"labelLimit":400,"fillColor":"rgba(255,255,255,0.8)","strokeColor":"#cccccc","cornerRadius":3,"padding":3,"rowPadding":0}},"strokeDash":{"field":"run","type":"nominal","scale":{"domain":["best","worst"],"range":[[6,3],[8,3,2,3]]},"legend":{"title":null,"orient":"bottom-right","offset":5,"labelExpr":"datum.label=='best'?'Best meta-training run':'Worst meta-training run'","symbolType":"stroke","symbolStrokeWidth":2,"symbolSize":450,"labelFontSize":11.5,"labelLimit":400,"fillColor":"rgba(255,255,255,0.8)","strokeColor":"#cccccc","cornerRadius":3,"padding":3,"rowPadding":0}}}}
    ]}
   ]}
   ]}
  ]},
  {"spacing":0,"vconcat":[
   {"width":207,"height":101,"data":{"name":"sep"},"view":{"stroke":null},"mark":{"type":"rule","color":"#333","strokeWidth":1},"encoding":{"y":{"datum":1,"type":"quantitative","scale":{"domain":[0,1]},"axis":null}}},
   {"width":187,"height":180,"title":{"text":"Training vs validation datasets","fontSize":12.5,"offset":1},"data":{"name":"scatter"},"mark":{"type":"circle","size":40,"opacity":1},"encoding":{"x":{"field":"train_acc","type":"quantitative","scale":{"domain":[0.9139,0.9633],"nice":false,"zero":false},"axis":{"values":[0.92,0.93,0.94,0.95,0.96],"tickCount":50,"format":".2f","title":"Mean accuracy (meta-train)","style":"sc"}},"y":{"field":"val_acc","type":"quantitative","scale":{"domain":[0.8345,0.8913],"nice":false,"zero":false},"axis":{"values":[0.84,0.85,0.86,0.87,0.88,0.89],"tickCount":50,"format":".2f","title":"Mean accuracy (meta-val)","style":"sc"}},"color":{"field":"kind","type":"nominal","scale":{"domain":["other","worst","best"],"range":["#808080","#ff0000","#0000ff"]},"legend":null}}}
  ]},
  {"spacing":0,"resolve":{"scale":{"color":"independent"}},"vconcat":[
   {"width":476,"height":5,"data":{"name":"sep"},"view":{"stroke":null},"mark":{"type":"rule","color":"#333","strokeWidth":1},"encoding":{"y":{"datum":1,"type":"quantitative","scale":{"domain":[0,1]},"axis":null}}},
   {"spacing":0,"resolve":{"scale":{"color":"independent"}},"vconcat":[
   {"spacing":6,"resolve":{"scale":{"color":"independent"}},"title":{"text":"Eval variability for the best meta-training run","fontSize":15,"anchor":"middle","offset":7},"hconcat":[
    {"width":217,"height":107,"title":{"text":"blob5x1","fontSize":13,"offset":3},"layer":[
     {"data":{"name":"box"},"transform":[{"filter":"datum.panel=='e_blob'"}],"mark":{"type":"rule","color":"black","strokeWidth":1,"clip":true},"encoding":{"x":{"field":"step","type":"quantitative","scale":{"domain":[-2.45,51.45],"nice":false,"zero":false},"axis":{"values":[0,10,20,30,40,50],"tickCount":50,"title":null,"style":"ev"}},"y":{"field":"lo","type":"quantitative","scale":{"domain":[0.017,1.034],"nice":false,"zero":false},"axis":{"values":[0.25,0.5,0.75,1],"tickCount":50,"format":".2f","title":"Accuracy","style":"ev"}},"y2":{"field":"hi"}}},
     {"data":{"name":"box"},"transform":[{"filter":"datum.panel=='e_blob'"}],"mark":{"type":"bar","size":5,"fill":"white","fillOpacity":0,"stroke":"black","strokeWidth":1,"clip":true},"encoding":{"x":{"field":"step","type":"quantitative"},"y":{"field":"q1","type":"quantitative"},"y2":{"field":"q3"}}},
     {"data":{"name":"box"},"transform":[{"filter":"datum.panel=='e_blob'"},{"fold":["lo","hi"],"as":["end","acc"]}],"mark":{"type":"tick","orient":"horizontal","size":3,"thickness":1,"color":"black","clip":true},"encoding":{"x":{"field":"step","type":"quantitative"},"y":{"field":"acc","type":"quantitative"}}},
     {"data":{"name":"box"},"transform":[{"filter":"datum.panel=='e_blob'"}],"mark":{"type":"tick","orient":"horizontal","size":5,"thickness":1,"color":"#ff7f0e","clip":true},"encoding":{"x":{"field":"step","type":"quantitative"},"y":{"field":"med","type":"quantitative"}}},
     {"data":{"name":"out"},"transform":[{"filter":"datum.panel=='e_blob'"}],"mark":{"type":"point","shape":"circle","filled":false,"color":"black","size":12,"strokeWidth":0.9,"clip":true},"encoding":{"x":{"field":"step","type":"quantitative"},"y":{"field":"acc","type":"quantitative"}}},
     {"data":{"name":"line"},"transform":[{"filter":"datum.panel=='e_blob'"}],"mark":{"type":"line","strokeWidth":2,"color":"#0000ff","clip":true},"encoding":{"x":{"field":"step","type":"quantitative"},"y":{"field":"acc","type":"quantitative"}}}
    ]},
    {"width":213,"height":107,"title":{"text":"cross","fontSize":13,"offset":3},"layer":[
     {"data":{"name":"box"},"transform":[{"filter":"datum.panel=='e_cross'"}],"mark":{"type":"rule","color":"black","strokeWidth":1,"clip":true},"encoding":{"x":{"field":"step","type":"quantitative","scale":{"domain":[-2.45,51.45],"nice":false,"zero":false},"axis":{"values":[0,10,20,30,40,50],"tickCount":50,"title":null,"style":"ev"}},"y":{"field":"lo","type":"quantitative","scale":{"domain":[0.417,0.855],"nice":false,"zero":false},"axis":{"values":[0.5,0.6,0.7,0.8],"tickCount":50,"format":".1f","title":null,"style":"ev"}},"y2":{"field":"hi"}}},
     {"data":{"name":"box"},"transform":[{"filter":"datum.panel=='e_cross'"}],"mark":{"type":"bar","size":5,"fill":"white","fillOpacity":0,"stroke":"black","strokeWidth":1,"clip":true},"encoding":{"x":{"field":"step","type":"quantitative"},"y":{"field":"q1","type":"quantitative"},"y2":{"field":"q3"}}},
     {"data":{"name":"box"},"transform":[{"filter":"datum.panel=='e_cross'"},{"fold":["lo","hi"],"as":["end","acc"]}],"mark":{"type":"tick","orient":"horizontal","size":3,"thickness":1,"color":"black","clip":true},"encoding":{"x":{"field":"step","type":"quantitative"},"y":{"field":"acc","type":"quantitative"}}},
     {"data":{"name":"box"},"transform":[{"filter":"datum.panel=='e_cross'"}],"mark":{"type":"tick","orient":"horizontal","size":5,"thickness":1,"color":"#ff7f0e","clip":true},"encoding":{"x":{"field":"step","type":"quantitative"},"y":{"field":"med","type":"quantitative"}}},
     {"data":{"name":"out"},"transform":[{"filter":"datum.panel=='e_cross'"}],"mark":{"type":"point","shape":"circle","filled":false,"color":"black","size":12,"strokeWidth":0.9,"clip":true},"encoding":{"x":{"field":"step","type":"quantitative"},"y":{"field":"acc","type":"quantitative"}}},
     {"data":{"name":"line"},"transform":[{"filter":"datum.panel=='e_cross'"}],"mark":{"type":"line","strokeWidth":2,"color":"#0000ff","clip":true},"encoding":{"x":{"field":"step","type":"quantitative"},"y":{"field":"acc","type":"quantitative"}}}
    ]}
   ]},
   {"spacing":6,"resolve":{"scale":{"color":"independent"}},"hconcat":[
    {"width":217,"height":108,"title":{"text":"triangle","fontSize":13,"offset":0},"layer":[
     {"data":{"name":"box"},"transform":[{"filter":"datum.panel=='e_tri'"}],"mark":{"type":"rule","color":"black","strokeWidth":1,"clip":true},"encoding":{"x":{"field":"step","type":"quantitative","scale":{"domain":[-2.45,51.45],"nice":false,"zero":false},"axis":{"values":[0,10,20,30,40,50],"tickCount":50,"title":"Unroll steps","style":"ev"}},"y":{"field":"lo","type":"quantitative","scale":{"domain":[0.345,0.953],"nice":false,"zero":false},"axis":{"values":[0.4,0.6,0.8],"tickCount":50,"format":".1f","title":"Accuracy","style":"ev"}},"y2":{"field":"hi"}}},
     {"data":{"name":"box"},"transform":[{"filter":"datum.panel=='e_tri'"}],"mark":{"type":"bar","size":5,"fill":"white","fillOpacity":0,"stroke":"black","strokeWidth":1,"clip":true},"encoding":{"x":{"field":"step","type":"quantitative"},"y":{"field":"q1","type":"quantitative"},"y2":{"field":"q3"}}},
     {"data":{"name":"box"},"transform":[{"filter":"datum.panel=='e_tri'"},{"fold":["lo","hi"],"as":["end","acc"]}],"mark":{"type":"tick","orient":"horizontal","size":3,"thickness":1,"color":"black","clip":true},"encoding":{"x":{"field":"step","type":"quantitative"},"y":{"field":"acc","type":"quantitative"}}},
     {"data":{"name":"box"},"transform":[{"filter":"datum.panel=='e_tri'"}],"mark":{"type":"tick","orient":"horizontal","size":5,"thickness":1,"color":"#ff7f0e","clip":true},"encoding":{"x":{"field":"step","type":"quantitative"},"y":{"field":"med","type":"quantitative"}}},
     {"data":{"name":"out"},"transform":[{"filter":"datum.panel=='e_tri'"}],"mark":{"type":"point","shape":"circle","filled":false,"color":"black","size":12,"strokeWidth":0.9,"clip":true},"encoding":{"x":{"field":"step","type":"quantitative"},"y":{"field":"acc","type":"quantitative"}}},
     {"data":{"name":"line"},"transform":[{"filter":"datum.panel=='e_tri'"}],"mark":{"type":"line","strokeWidth":2,"color":"#0000ff","clip":true},"encoding":{"x":{"field":"step","type":"quantitative"},"y":{"field":"acc","type":"quantitative"}}}
    ]},
    {"width":213,"height":108,"title":{"text":"mnist:0-9","fontSize":13,"offset":0},"layer":[
     {"data":{"name":"box"},"transform":[{"filter":"datum.panel=='e_mnist'"}],"mark":{"type":"rule","color":"black","strokeWidth":1,"clip":true},"encoding":{"x":{"field":"step","type":"quantitative","scale":{"domain":[-2.45,51.45],"nice":false,"zero":false},"axis":{"values":[0,10,20,30,40,50],"tickCount":50,"title":"Unroll steps","style":"ev"}},"y":{"field":"lo","type":"quantitative","scale":{"domain":[0.081,0.702],"nice":false,"zero":false},"axis":{"values":[0.2,0.4,0.6],"tickCount":50,"format":".1f","title":null,"style":"ev"}},"y2":{"field":"hi"}}},
     {"data":{"name":"box"},"transform":[{"filter":"datum.panel=='e_mnist'"}],"mark":{"type":"bar","size":5,"fill":"white","fillOpacity":0,"stroke":"black","strokeWidth":1,"clip":true},"encoding":{"x":{"field":"step","type":"quantitative"},"y":{"field":"q1","type":"quantitative"},"y2":{"field":"q3"}}},
     {"data":{"name":"box"},"transform":[{"filter":"datum.panel=='e_mnist'"},{"fold":["lo","hi"],"as":["end","acc"]}],"mark":{"type":"tick","orient":"horizontal","size":3,"thickness":1,"color":"black","clip":true},"encoding":{"x":{"field":"step","type":"quantitative"},"y":{"field":"acc","type":"quantitative"}}},
     {"data":{"name":"box"},"transform":[{"filter":"datum.panel=='e_mnist'"}],"mark":{"type":"tick","orient":"horizontal","size":5,"thickness":1,"color":"#ff7f0e","clip":true},"encoding":{"x":{"field":"step","type":"quantitative"},"y":{"field":"med","type":"quantitative"}}},
     {"data":{"name":"out"},"transform":[{"filter":"datum.panel=='e_mnist'"}],"mark":{"type":"point","shape":"circle","filled":false,"color":"black","size":12,"strokeWidth":0.9,"clip":true},"encoding":{"x":{"field":"step","type":"quantitative"},"y":{"field":"acc","type":"quantitative"}}},
     {"data":{"name":"line"},"transform":[{"filter":"datum.panel=='e_mnist'"}],"mark":{"type":"line","strokeWidth":2,"clip":true},"encoding":{"x":{"field":"step","type":"quantitative"},"y":{"field":"acc","type":"quantitative"},"color":{"field":"run","type":"nominal","scale":{"domain":["mean"],"range":["#0000ff"]},"legend":{"title":null,"orient":"bottom-right","offset":4,"labelExpr":"'Mean accuracy'","symbolType":"stroke","symbolStrokeWidth":2,"symbolSize":500,"labelFontSize":12.5,"fillColor":"rgba(255,255,255,0.8)","strokeColor":"#cccccc","cornerRadius":3,"padding":3}}}}
    ]}
   ]}
   ]}
  ]}
 ]}
]
}
